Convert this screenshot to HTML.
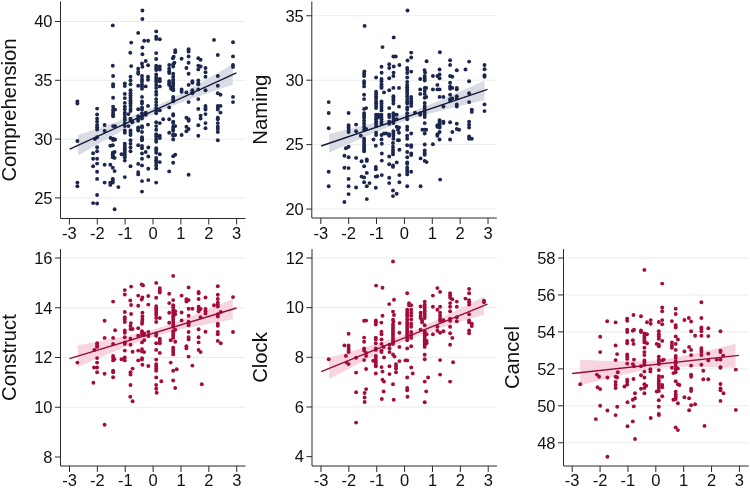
<!DOCTYPE html>
<html><head><meta charset="utf-8"><style>
html,body{margin:0;padding:0;background:#fff;}
body{width:750px;height:488px;overflow:hidden;}
svg{display:block;will-change:transform;}
.t{font-family:"Liberation Sans", sans-serif;font-size:16.5px;fill:#111;}
.ti{font-family:"Liberation Sans", sans-serif;font-size:20.3px;fill:#111;}
</style></head><body>
<svg width="750" height="488" viewBox="0 0 750 488">
<line x1="61.5" y1="21.5" x2="245.5" y2="21.5" stroke="#e9eced" stroke-width="1"/>
<line x1="61.5" y1="80.3" x2="245.5" y2="80.3" stroke="#e9eced" stroke-width="1"/>
<line x1="61.5" y1="139.1" x2="245.5" y2="139.1" stroke="#e9eced" stroke-width="1"/>
<line x1="61.5" y1="197.9" x2="245.5" y2="197.9" stroke="#e9eced" stroke-width="1"/>
<polygon points="77.9,135.19 81.77,133.86 85.65,132.52 89.52,131.18 93.39,129.84 97.26,128.49 101.14,127.14 105.01,125.78 108.88,124.42 112.75,123.04 116.62,121.66 120.5,120.26 124.37,118.85 128.24,117.42 132.12,115.96 135.99,114.48 139.86,112.97 143.73,111.42 147.61,109.81 151.48,108.16 155.35,106.44 159.22,104.66 163.1,102.81 166.97,100.9 170.84,98.93 174.71,96.92 178.59,94.86 182.46,92.77 186.33,90.65 190.2,88.51 194.07,86.35 197.95,84.18 201.82,81.99 205.69,79.79 209.57,77.59 213.44,75.38 217.31,73.16 221.18,70.94 225.06,68.71 228.93,66.48 232.8,64.25 232.8,84.65 228.93,85.97 225.06,87.29 221.18,88.61 217.31,89.94 213.44,91.27 209.57,92.61 205.69,93.95 201.82,95.31 197.95,96.67 194.07,98.05 190.2,99.44 186.33,100.85 182.46,102.28 178.59,103.73 174.71,105.23 170.84,106.76 166.97,108.34 163.1,109.98 159.22,111.68 155.35,113.45 151.48,115.28 147.61,117.18 143.73,119.13 139.86,121.12 135.99,123.16 132.12,125.22 128.24,127.32 124.37,129.44 120.5,131.58 116.62,133.73 112.75,135.89 108.88,138.07 105.01,140.25 101.14,142.44 97.26,144.64 93.39,146.84 89.52,149.05 85.65,151.26 81.77,153.48 77.9,155.69" fill="#d9dce4"/>
<circle cx="112.8" cy="25.4" r="1.95" fill="#1b274c"/>
<circle cx="112.8" cy="65.8" r="1.95" fill="#1b274c"/>
<circle cx="131.2" cy="42.6" r="1.95" fill="#1b274c"/>
<circle cx="131.2" cy="66.1" r="1.95" fill="#1b274c"/>
<circle cx="130.3" cy="52.8" r="1.95" fill="#1b274c"/>
<circle cx="142.4" cy="10.5" r="1.95" fill="#1b274c"/>
<circle cx="142.4" cy="19" r="1.95" fill="#1b274c"/>
<circle cx="142.4" cy="47.5" r="1.95" fill="#1b274c"/>
<circle cx="142.4" cy="54.3" r="1.95" fill="#1b274c"/>
<circle cx="142.4" cy="66.8" r="1.95" fill="#1b274c"/>
<circle cx="142" cy="63.5" r="1.95" fill="#1b274c"/>
<circle cx="138.2" cy="32.9" r="1.95" fill="#1b274c"/>
<circle cx="138.2" cy="68.8" r="1.95" fill="#1b274c"/>
<circle cx="138.2" cy="72" r="1.95" fill="#1b274c"/>
<circle cx="144.2" cy="40.8" r="1.95" fill="#1b274c"/>
<circle cx="148.1" cy="40.8" r="1.95" fill="#1b274c"/>
<circle cx="148.1" cy="65.3" r="1.95" fill="#1b274c"/>
<circle cx="145.7" cy="61" r="1.95" fill="#1b274c"/>
<circle cx="156.2" cy="31.4" r="1.95" fill="#1b274c"/>
<circle cx="156.2" cy="36.6" r="1.95" fill="#1b274c"/>
<circle cx="156.2" cy="38.9" r="1.95" fill="#1b274c"/>
<circle cx="156.2" cy="53.1" r="1.95" fill="#1b274c"/>
<circle cx="156.2" cy="59" r="1.95" fill="#1b274c"/>
<circle cx="156.2" cy="65.8" r="1.95" fill="#1b274c"/>
<circle cx="156.2" cy="68" r="1.95" fill="#1b274c"/>
<circle cx="159.8" cy="39.3" r="1.95" fill="#1b274c"/>
<circle cx="159.8" cy="66.5" r="1.95" fill="#1b274c"/>
<circle cx="159.8" cy="69.5" r="1.95" fill="#1b274c"/>
<circle cx="175.2" cy="50.1" r="1.95" fill="#1b274c"/>
<circle cx="175.2" cy="52.3" r="1.95" fill="#1b274c"/>
<circle cx="173.7" cy="56.8" r="1.95" fill="#1b274c"/>
<circle cx="172.9" cy="58.3" r="1.95" fill="#1b274c"/>
<circle cx="174.4" cy="62.8" r="1.95" fill="#1b274c"/>
<circle cx="173.2" cy="64.3" r="1.95" fill="#1b274c"/>
<circle cx="173.2" cy="66.5" r="1.95" fill="#1b274c"/>
<circle cx="169.2" cy="65" r="1.95" fill="#1b274c"/>
<circle cx="169.2" cy="68.8" r="1.95" fill="#1b274c"/>
<circle cx="181.6" cy="58.7" r="1.95" fill="#1b274c"/>
<circle cx="188.6" cy="49.3" r="1.95" fill="#1b274c"/>
<circle cx="188.6" cy="51.6" r="1.95" fill="#1b274c"/>
<circle cx="188.6" cy="56.5" r="1.95" fill="#1b274c"/>
<circle cx="188.6" cy="62.8" r="1.95" fill="#1b274c"/>
<circle cx="186.4" cy="68" r="1.95" fill="#1b274c"/>
<circle cx="198.3" cy="58.3" r="1.95" fill="#1b274c"/>
<circle cx="198.3" cy="65.8" r="1.95" fill="#1b274c"/>
<circle cx="198.3" cy="69.4" r="1.95" fill="#1b274c"/>
<circle cx="200.6" cy="59.8" r="1.95" fill="#1b274c"/>
<circle cx="200.6" cy="66.5" r="1.95" fill="#1b274c"/>
<circle cx="205.5" cy="68" r="1.95" fill="#1b274c"/>
<circle cx="214" cy="39.9" r="1.95" fill="#1b274c"/>
<circle cx="217.8" cy="55" r="1.95" fill="#1b274c"/>
<circle cx="233" cy="42.3" r="1.95" fill="#1b274c"/>
<circle cx="233" cy="56.4" r="1.95" fill="#1b274c"/>
<circle cx="233" cy="65" r="1.95" fill="#1b274c"/>
<circle cx="233" cy="67" r="1.95" fill="#1b274c"/>
<circle cx="77.4" cy="101.4" r="1.95" fill="#1b274c"/>
<circle cx="77.4" cy="103.6" r="1.95" fill="#1b274c"/>
<circle cx="77.4" cy="141" r="1.95" fill="#1b274c"/>
<circle cx="97.1" cy="108.6" r="1.95" fill="#1b274c"/>
<circle cx="97.1" cy="114.5" r="1.95" fill="#1b274c"/>
<circle cx="97.1" cy="118.6" r="1.95" fill="#1b274c"/>
<circle cx="97.1" cy="121.6" r="1.95" fill="#1b274c"/>
<circle cx="97.1" cy="125" r="1.95" fill="#1b274c"/>
<circle cx="97.1" cy="127.2" r="1.95" fill="#1b274c"/>
<circle cx="97.1" cy="129.5" r="1.95" fill="#1b274c"/>
<circle cx="97.1" cy="137.3" r="1.95" fill="#1b274c"/>
<circle cx="94.9" cy="139.1" r="1.95" fill="#1b274c"/>
<circle cx="104.6" cy="125" r="1.95" fill="#1b274c"/>
<circle cx="104.6" cy="131" r="1.95" fill="#1b274c"/>
<circle cx="110.6" cy="138" r="1.95" fill="#1b274c"/>
<circle cx="113.1" cy="76" r="1.95" fill="#1b274c"/>
<circle cx="113.1" cy="84.2" r="1.95" fill="#1b274c"/>
<circle cx="113.1" cy="86.4" r="1.95" fill="#1b274c"/>
<circle cx="113.1" cy="97.7" r="1.95" fill="#1b274c"/>
<circle cx="113.1" cy="106.6" r="1.95" fill="#1b274c"/>
<circle cx="113.1" cy="109.6" r="1.95" fill="#1b274c"/>
<circle cx="113.1" cy="111.9" r="1.95" fill="#1b274c"/>
<circle cx="113.1" cy="114.5" r="1.95" fill="#1b274c"/>
<circle cx="113.1" cy="116.3" r="1.95" fill="#1b274c"/>
<circle cx="113.1" cy="126.1" r="1.95" fill="#1b274c"/>
<circle cx="113.1" cy="138.8" r="1.95" fill="#1b274c"/>
<circle cx="113.1" cy="140" r="1.95" fill="#1b274c"/>
<circle cx="115.1" cy="109.6" r="1.95" fill="#1b274c"/>
<circle cx="115.1" cy="126.1" r="1.95" fill="#1b274c"/>
<circle cx="115.1" cy="139.5" r="1.95" fill="#1b274c"/>
<circle cx="124.8" cy="83.5" r="1.95" fill="#1b274c"/>
<circle cx="124.8" cy="86.1" r="1.95" fill="#1b274c"/>
<circle cx="124.8" cy="93.9" r="1.95" fill="#1b274c"/>
<circle cx="124.8" cy="98.1" r="1.95" fill="#1b274c"/>
<circle cx="124.8" cy="102.9" r="1.95" fill="#1b274c"/>
<circle cx="124.8" cy="106.6" r="1.95" fill="#1b274c"/>
<circle cx="124.8" cy="109.2" r="1.95" fill="#1b274c"/>
<circle cx="124.8" cy="112.6" r="1.95" fill="#1b274c"/>
<circle cx="124.8" cy="114.8" r="1.95" fill="#1b274c"/>
<circle cx="124.8" cy="117.8" r="1.95" fill="#1b274c"/>
<circle cx="124.8" cy="120.1" r="1.95" fill="#1b274c"/>
<circle cx="124.8" cy="123.1" r="1.95" fill="#1b274c"/>
<circle cx="124.8" cy="126.1" r="1.95" fill="#1b274c"/>
<circle cx="124.8" cy="130.5" r="1.95" fill="#1b274c"/>
<circle cx="124.8" cy="132.8" r="1.95" fill="#1b274c"/>
<circle cx="128.5" cy="114.1" r="1.95" fill="#1b274c"/>
<circle cx="128.5" cy="126.1" r="1.95" fill="#1b274c"/>
<circle cx="130.5" cy="76.7" r="1.95" fill="#1b274c"/>
<circle cx="130.5" cy="80.5" r="1.95" fill="#1b274c"/>
<circle cx="130.5" cy="84.2" r="1.95" fill="#1b274c"/>
<circle cx="130.5" cy="90.2" r="1.95" fill="#1b274c"/>
<circle cx="130.5" cy="93.2" r="1.95" fill="#1b274c"/>
<circle cx="130.5" cy="95.4" r="1.95" fill="#1b274c"/>
<circle cx="130.5" cy="97.7" r="1.95" fill="#1b274c"/>
<circle cx="130.5" cy="99.9" r="1.95" fill="#1b274c"/>
<circle cx="130.5" cy="101.4" r="1.95" fill="#1b274c"/>
<circle cx="130.5" cy="103.6" r="1.95" fill="#1b274c"/>
<circle cx="130.5" cy="105.9" r="1.95" fill="#1b274c"/>
<circle cx="130.5" cy="108.9" r="1.95" fill="#1b274c"/>
<circle cx="130.5" cy="111.1" r="1.95" fill="#1b274c"/>
<circle cx="130.5" cy="118.6" r="1.95" fill="#1b274c"/>
<circle cx="130.5" cy="120.1" r="1.95" fill="#1b274c"/>
<circle cx="130.5" cy="130.5" r="1.95" fill="#1b274c"/>
<circle cx="130.5" cy="132.8" r="1.95" fill="#1b274c"/>
<circle cx="130.5" cy="135" r="1.95" fill="#1b274c"/>
<circle cx="130.5" cy="140.3" r="1.95" fill="#1b274c"/>
<circle cx="132.3" cy="121.6" r="1.95" fill="#1b274c"/>
<circle cx="132.3" cy="122.3" r="1.95" fill="#1b274c"/>
<circle cx="138.2" cy="73.7" r="1.95" fill="#1b274c"/>
<circle cx="138.2" cy="85.7" r="1.95" fill="#1b274c"/>
<circle cx="138.2" cy="109.2" r="1.95" fill="#1b274c"/>
<circle cx="138.2" cy="116.3" r="1.95" fill="#1b274c"/>
<circle cx="138.2" cy="119.3" r="1.95" fill="#1b274c"/>
<circle cx="138.2" cy="120.8" r="1.95" fill="#1b274c"/>
<circle cx="138.2" cy="127.5" r="1.95" fill="#1b274c"/>
<circle cx="138.2" cy="129" r="1.95" fill="#1b274c"/>
<circle cx="138.2" cy="130.5" r="1.95" fill="#1b274c"/>
<circle cx="142" cy="76" r="1.95" fill="#1b274c"/>
<circle cx="142" cy="79" r="1.95" fill="#1b274c"/>
<circle cx="142" cy="81.2" r="1.95" fill="#1b274c"/>
<circle cx="142" cy="84.2" r="1.95" fill="#1b274c"/>
<circle cx="142" cy="86.4" r="1.95" fill="#1b274c"/>
<circle cx="142" cy="88.7" r="1.95" fill="#1b274c"/>
<circle cx="142" cy="96.9" r="1.95" fill="#1b274c"/>
<circle cx="142" cy="101.4" r="1.95" fill="#1b274c"/>
<circle cx="142" cy="103.6" r="1.95" fill="#1b274c"/>
<circle cx="142" cy="107.4" r="1.95" fill="#1b274c"/>
<circle cx="142" cy="109.6" r="1.95" fill="#1b274c"/>
<circle cx="142" cy="113.3" r="1.95" fill="#1b274c"/>
<circle cx="142" cy="116.3" r="1.95" fill="#1b274c"/>
<circle cx="142" cy="118.6" r="1.95" fill="#1b274c"/>
<circle cx="142" cy="126.1" r="1.95" fill="#1b274c"/>
<circle cx="142" cy="127.5" r="1.95" fill="#1b274c"/>
<circle cx="142" cy="132" r="1.95" fill="#1b274c"/>
<circle cx="142" cy="137.3" r="1.95" fill="#1b274c"/>
<circle cx="142" cy="138.8" r="1.95" fill="#1b274c"/>
<circle cx="142" cy="140.3" r="1.95" fill="#1b274c"/>
<circle cx="145.7" cy="86.4" r="1.95" fill="#1b274c"/>
<circle cx="145.7" cy="112.6" r="1.95" fill="#1b274c"/>
<circle cx="145.7" cy="114.8" r="1.95" fill="#1b274c"/>
<circle cx="148" cy="76.7" r="1.95" fill="#1b274c"/>
<circle cx="148" cy="79.7" r="1.95" fill="#1b274c"/>
<circle cx="148" cy="105.9" r="1.95" fill="#1b274c"/>
<circle cx="148" cy="124.6" r="1.95" fill="#1b274c"/>
<circle cx="156.2" cy="70" r="1.95" fill="#1b274c"/>
<circle cx="156.2" cy="74.5" r="1.95" fill="#1b274c"/>
<circle cx="156.2" cy="77.5" r="1.95" fill="#1b274c"/>
<circle cx="156.2" cy="79.7" r="1.95" fill="#1b274c"/>
<circle cx="156.2" cy="82" r="1.95" fill="#1b274c"/>
<circle cx="156.2" cy="84.9" r="1.95" fill="#1b274c"/>
<circle cx="156.2" cy="87.9" r="1.95" fill="#1b274c"/>
<circle cx="156.2" cy="91.7" r="1.95" fill="#1b274c"/>
<circle cx="156.2" cy="94.7" r="1.95" fill="#1b274c"/>
<circle cx="156.2" cy="99.1" r="1.95" fill="#1b274c"/>
<circle cx="156.2" cy="102.1" r="1.95" fill="#1b274c"/>
<circle cx="156.2" cy="105.1" r="1.95" fill="#1b274c"/>
<circle cx="156.2" cy="108.1" r="1.95" fill="#1b274c"/>
<circle cx="156.2" cy="111.1" r="1.95" fill="#1b274c"/>
<circle cx="156.2" cy="113.3" r="1.95" fill="#1b274c"/>
<circle cx="156.2" cy="122.3" r="1.95" fill="#1b274c"/>
<circle cx="156.2" cy="126.1" r="1.95" fill="#1b274c"/>
<circle cx="156.2" cy="129.8" r="1.95" fill="#1b274c"/>
<circle cx="156.2" cy="134.3" r="1.95" fill="#1b274c"/>
<circle cx="156.2" cy="136.5" r="1.95" fill="#1b274c"/>
<circle cx="156.2" cy="139.5" r="1.95" fill="#1b274c"/>
<circle cx="156.2" cy="141.7" r="1.95" fill="#1b274c"/>
<circle cx="159.8" cy="79" r="1.95" fill="#1b274c"/>
<circle cx="159.8" cy="81.2" r="1.95" fill="#1b274c"/>
<circle cx="159.8" cy="86.4" r="1.95" fill="#1b274c"/>
<circle cx="159.8" cy="110.4" r="1.95" fill="#1b274c"/>
<circle cx="159.8" cy="123.1" r="1.95" fill="#1b274c"/>
<circle cx="159.8" cy="135.8" r="1.95" fill="#1b274c"/>
<circle cx="159.8" cy="138" r="1.95" fill="#1b274c"/>
<circle cx="163.2" cy="119.3" r="1.95" fill="#1b274c"/>
<circle cx="169.2" cy="71.5" r="1.95" fill="#1b274c"/>
<circle cx="169.2" cy="73" r="1.95" fill="#1b274c"/>
<circle cx="169.2" cy="81.2" r="1.95" fill="#1b274c"/>
<circle cx="169.2" cy="83.5" r="1.95" fill="#1b274c"/>
<circle cx="169.2" cy="84.9" r="1.95" fill="#1b274c"/>
<circle cx="169.2" cy="107.4" r="1.95" fill="#1b274c"/>
<circle cx="169.2" cy="119.3" r="1.95" fill="#1b274c"/>
<circle cx="169.2" cy="132.8" r="1.95" fill="#1b274c"/>
<circle cx="171.1" cy="87.2" r="1.95" fill="#1b274c"/>
<circle cx="171.1" cy="88.7" r="1.95" fill="#1b274c"/>
<circle cx="173.2" cy="73.7" r="1.95" fill="#1b274c"/>
<circle cx="173.2" cy="76.7" r="1.95" fill="#1b274c"/>
<circle cx="173.2" cy="79.7" r="1.95" fill="#1b274c"/>
<circle cx="173.2" cy="82" r="1.95" fill="#1b274c"/>
<circle cx="173.2" cy="83.5" r="1.95" fill="#1b274c"/>
<circle cx="173.2" cy="85.7" r="1.95" fill="#1b274c"/>
<circle cx="173.2" cy="88.7" r="1.95" fill="#1b274c"/>
<circle cx="173.2" cy="90.2" r="1.95" fill="#1b274c"/>
<circle cx="173.2" cy="96.9" r="1.95" fill="#1b274c"/>
<circle cx="173.2" cy="99.1" r="1.95" fill="#1b274c"/>
<circle cx="173.2" cy="101.4" r="1.95" fill="#1b274c"/>
<circle cx="173.2" cy="114.1" r="1.95" fill="#1b274c"/>
<circle cx="173.2" cy="115.6" r="1.95" fill="#1b274c"/>
<circle cx="173.2" cy="121.6" r="1.95" fill="#1b274c"/>
<circle cx="173.2" cy="123.1" r="1.95" fill="#1b274c"/>
<circle cx="173.2" cy="126.8" r="1.95" fill="#1b274c"/>
<circle cx="173.2" cy="129" r="1.95" fill="#1b274c"/>
<circle cx="173.2" cy="130.5" r="1.95" fill="#1b274c"/>
<circle cx="173.2" cy="134.3" r="1.95" fill="#1b274c"/>
<circle cx="173.2" cy="135.8" r="1.95" fill="#1b274c"/>
<circle cx="173.2" cy="139.5" r="1.95" fill="#1b274c"/>
<circle cx="175.2" cy="126.1" r="1.95" fill="#1b274c"/>
<circle cx="175.2" cy="135" r="1.95" fill="#1b274c"/>
<circle cx="181.6" cy="89.4" r="1.95" fill="#1b274c"/>
<circle cx="181.6" cy="91.7" r="1.95" fill="#1b274c"/>
<circle cx="181.6" cy="135" r="1.95" fill="#1b274c"/>
<circle cx="186.4" cy="92.4" r="1.95" fill="#1b274c"/>
<circle cx="186.4" cy="117.8" r="1.95" fill="#1b274c"/>
<circle cx="186.4" cy="126.8" r="1.95" fill="#1b274c"/>
<circle cx="186.4" cy="131.3" r="1.95" fill="#1b274c"/>
<circle cx="188.6" cy="73.7" r="1.95" fill="#1b274c"/>
<circle cx="188.6" cy="84.9" r="1.95" fill="#1b274c"/>
<circle cx="188.6" cy="102.1" r="1.95" fill="#1b274c"/>
<circle cx="188.6" cy="119.3" r="1.95" fill="#1b274c"/>
<circle cx="188.6" cy="120.8" r="1.95" fill="#1b274c"/>
<circle cx="188.6" cy="129" r="1.95" fill="#1b274c"/>
<circle cx="192.4" cy="81.2" r="1.95" fill="#1b274c"/>
<circle cx="192.4" cy="82.7" r="1.95" fill="#1b274c"/>
<circle cx="192.4" cy="90.2" r="1.95" fill="#1b274c"/>
<circle cx="192.4" cy="92.4" r="1.95" fill="#1b274c"/>
<circle cx="192.4" cy="93.2" r="1.95" fill="#1b274c"/>
<circle cx="198.3" cy="80.5" r="1.95" fill="#1b274c"/>
<circle cx="198.3" cy="83.5" r="1.95" fill="#1b274c"/>
<circle cx="198.3" cy="84.2" r="1.95" fill="#1b274c"/>
<circle cx="198.3" cy="89.4" r="1.95" fill="#1b274c"/>
<circle cx="198.3" cy="99.1" r="1.95" fill="#1b274c"/>
<circle cx="198.3" cy="108.9" r="1.95" fill="#1b274c"/>
<circle cx="198.3" cy="125.3" r="1.95" fill="#1b274c"/>
<circle cx="198.3" cy="135.8" r="1.95" fill="#1b274c"/>
<circle cx="200.6" cy="115.6" r="1.95" fill="#1b274c"/>
<circle cx="200.6" cy="118.6" r="1.95" fill="#1b274c"/>
<circle cx="205.5" cy="72.2" r="1.95" fill="#1b274c"/>
<circle cx="205.5" cy="76.7" r="1.95" fill="#1b274c"/>
<circle cx="205.5" cy="90.2" r="1.95" fill="#1b274c"/>
<circle cx="205.5" cy="105.9" r="1.95" fill="#1b274c"/>
<circle cx="205.5" cy="108.1" r="1.95" fill="#1b274c"/>
<circle cx="205.5" cy="109.6" r="1.95" fill="#1b274c"/>
<circle cx="205.5" cy="114.1" r="1.95" fill="#1b274c"/>
<circle cx="205.5" cy="123.1" r="1.95" fill="#1b274c"/>
<circle cx="205.5" cy="128.3" r="1.95" fill="#1b274c"/>
<circle cx="217.8" cy="76" r="1.95" fill="#1b274c"/>
<circle cx="217.8" cy="85.7" r="1.95" fill="#1b274c"/>
<circle cx="217.8" cy="93.2" r="1.95" fill="#1b274c"/>
<circle cx="217.8" cy="105.9" r="1.95" fill="#1b274c"/>
<circle cx="217.8" cy="108.1" r="1.95" fill="#1b274c"/>
<circle cx="217.8" cy="109.6" r="1.95" fill="#1b274c"/>
<circle cx="217.8" cy="117.8" r="1.95" fill="#1b274c"/>
<circle cx="217.8" cy="119.3" r="1.95" fill="#1b274c"/>
<circle cx="217.8" cy="123.1" r="1.95" fill="#1b274c"/>
<circle cx="217.8" cy="126.8" r="1.95" fill="#1b274c"/>
<circle cx="217.8" cy="129" r="1.95" fill="#1b274c"/>
<circle cx="217.8" cy="132" r="1.95" fill="#1b274c"/>
<circle cx="217.8" cy="140.3" r="1.95" fill="#1b274c"/>
<circle cx="220.5" cy="94.7" r="1.95" fill="#1b274c"/>
<circle cx="220.5" cy="105.9" r="1.95" fill="#1b274c"/>
<circle cx="220.5" cy="112.6" r="1.95" fill="#1b274c"/>
<circle cx="233" cy="96.9" r="1.95" fill="#1b274c"/>
<circle cx="233" cy="102.1" r="1.95" fill="#1b274c"/>
<circle cx="77.4" cy="182.6" r="1.95" fill="#1b274c"/>
<circle cx="77.4" cy="186.3" r="1.95" fill="#1b274c"/>
<circle cx="93.1" cy="153.2" r="1.95" fill="#1b274c"/>
<circle cx="93.1" cy="158.7" r="1.95" fill="#1b274c"/>
<circle cx="93.1" cy="166.2" r="1.95" fill="#1b274c"/>
<circle cx="93.1" cy="203.1" r="1.95" fill="#1b274c"/>
<circle cx="97.1" cy="147.2" r="1.95" fill="#1b274c"/>
<circle cx="97.1" cy="151.2" r="1.95" fill="#1b274c"/>
<circle cx="97.1" cy="158.7" r="1.95" fill="#1b274c"/>
<circle cx="97.1" cy="163.6" r="1.95" fill="#1b274c"/>
<circle cx="97.1" cy="171.7" r="1.95" fill="#1b274c"/>
<circle cx="97.1" cy="178.9" r="1.95" fill="#1b274c"/>
<circle cx="97.1" cy="195" r="1.95" fill="#1b274c"/>
<circle cx="97.1" cy="203.5" r="1.95" fill="#1b274c"/>
<circle cx="104.6" cy="164.7" r="1.95" fill="#1b274c"/>
<circle cx="104.6" cy="182.6" r="1.95" fill="#1b274c"/>
<circle cx="110.3" cy="145.7" r="1.95" fill="#1b274c"/>
<circle cx="110.3" cy="164.7" r="1.95" fill="#1b274c"/>
<circle cx="110.3" cy="182.6" r="1.95" fill="#1b274c"/>
<circle cx="110.3" cy="184.9" r="1.95" fill="#1b274c"/>
<circle cx="112.8" cy="145.2" r="1.95" fill="#1b274c"/>
<circle cx="112.8" cy="152.7" r="1.95" fill="#1b274c"/>
<circle cx="112.8" cy="154.2" r="1.95" fill="#1b274c"/>
<circle cx="112.8" cy="155.7" r="1.95" fill="#1b274c"/>
<circle cx="112.8" cy="157.2" r="1.95" fill="#1b274c"/>
<circle cx="112.8" cy="167.7" r="1.95" fill="#1b274c"/>
<circle cx="112.8" cy="178.9" r="1.95" fill="#1b274c"/>
<circle cx="112.8" cy="180.4" r="1.95" fill="#1b274c"/>
<circle cx="112.8" cy="182.6" r="1.95" fill="#1b274c"/>
<circle cx="114.6" cy="152" r="1.95" fill="#1b274c"/>
<circle cx="114.6" cy="157.9" r="1.95" fill="#1b274c"/>
<circle cx="114.6" cy="171.1" r="1.95" fill="#1b274c"/>
<circle cx="114.6" cy="209.2" r="1.95" fill="#1b274c"/>
<circle cx="118.4" cy="187.1" r="1.95" fill="#1b274c"/>
<circle cx="121.5" cy="154.2" r="1.95" fill="#1b274c"/>
<circle cx="124.8" cy="143.7" r="1.95" fill="#1b274c"/>
<circle cx="124.8" cy="146" r="1.95" fill="#1b274c"/>
<circle cx="124.8" cy="148.2" r="1.95" fill="#1b274c"/>
<circle cx="124.8" cy="150.5" r="1.95" fill="#1b274c"/>
<circle cx="124.8" cy="152.7" r="1.95" fill="#1b274c"/>
<circle cx="124.8" cy="155" r="1.95" fill="#1b274c"/>
<circle cx="124.8" cy="157.2" r="1.95" fill="#1b274c"/>
<circle cx="124.8" cy="160.6" r="1.95" fill="#1b274c"/>
<circle cx="124.8" cy="177.1" r="1.95" fill="#1b274c"/>
<circle cx="130.5" cy="143.7" r="1.95" fill="#1b274c"/>
<circle cx="130.5" cy="147.5" r="1.95" fill="#1b274c"/>
<circle cx="130.5" cy="151.2" r="1.95" fill="#1b274c"/>
<circle cx="130.5" cy="166.2" r="1.95" fill="#1b274c"/>
<circle cx="138.2" cy="145.2" r="1.95" fill="#1b274c"/>
<circle cx="138.2" cy="163.9" r="1.95" fill="#1b274c"/>
<circle cx="138.2" cy="172.1" r="1.95" fill="#1b274c"/>
<circle cx="138.2" cy="174.4" r="1.95" fill="#1b274c"/>
<circle cx="142" cy="146" r="1.95" fill="#1b274c"/>
<circle cx="142" cy="148.2" r="1.95" fill="#1b274c"/>
<circle cx="142" cy="153.5" r="1.95" fill="#1b274c"/>
<circle cx="142" cy="158.7" r="1.95" fill="#1b274c"/>
<circle cx="142" cy="165.4" r="1.95" fill="#1b274c"/>
<circle cx="142" cy="181.1" r="1.95" fill="#1b274c"/>
<circle cx="142" cy="191.6" r="1.95" fill="#1b274c"/>
<circle cx="145.7" cy="152" r="1.95" fill="#1b274c"/>
<circle cx="148.3" cy="147.5" r="1.95" fill="#1b274c"/>
<circle cx="148.3" cy="156.5" r="1.95" fill="#1b274c"/>
<circle cx="148.3" cy="168.7" r="1.95" fill="#1b274c"/>
<circle cx="148.3" cy="180.1" r="1.95" fill="#1b274c"/>
<circle cx="156.2" cy="148.2" r="1.95" fill="#1b274c"/>
<circle cx="156.2" cy="150.5" r="1.95" fill="#1b274c"/>
<circle cx="156.2" cy="152.7" r="1.95" fill="#1b274c"/>
<circle cx="156.2" cy="157.9" r="1.95" fill="#1b274c"/>
<circle cx="156.2" cy="160.2" r="1.95" fill="#1b274c"/>
<circle cx="156.2" cy="162.4" r="1.95" fill="#1b274c"/>
<circle cx="156.2" cy="165.4" r="1.95" fill="#1b274c"/>
<circle cx="156.2" cy="168.4" r="1.95" fill="#1b274c"/>
<circle cx="156.2" cy="182.6" r="1.95" fill="#1b274c"/>
<circle cx="159.8" cy="154.2" r="1.95" fill="#1b274c"/>
<circle cx="159.8" cy="162.1" r="1.95" fill="#1b274c"/>
<circle cx="169.2" cy="171.4" r="1.95" fill="#1b274c"/>
<circle cx="173.2" cy="156.2" r="1.95" fill="#1b274c"/>
<circle cx="173.2" cy="162.7" r="1.95" fill="#1b274c"/>
<circle cx="175.2" cy="154.7" r="1.95" fill="#1b274c"/>
<circle cx="188.6" cy="174.8" r="1.95" fill="#1b274c"/>
<line x1="69.7" y1="149.2" x2="236.4" y2="72.8" stroke="#141c38" stroke-width="1.4"/>
<path d="M60.5,1.5V218.5H245.5" fill="none" stroke="#2a2a2a" stroke-width="1"/>
<line x1="55" y1="21.5" x2="60.5" y2="21.5" stroke="#2a2a2a" stroke-width="1"/>
<text x="52.5" y="27.3" text-anchor="end" class="t">40</text>
<line x1="55" y1="80.3" x2="60.5" y2="80.3" stroke="#2a2a2a" stroke-width="1"/>
<text x="52.5" y="86.1" text-anchor="end" class="t">35</text>
<line x1="55" y1="139.1" x2="60.5" y2="139.1" stroke="#2a2a2a" stroke-width="1"/>
<text x="52.5" y="144.9" text-anchor="end" class="t">30</text>
<line x1="55" y1="197.9" x2="60.5" y2="197.9" stroke="#2a2a2a" stroke-width="1"/>
<text x="52.5" y="203.7" text-anchor="end" class="t">25</text>
<line x1="69.4" y1="218.5" x2="69.4" y2="224.5" stroke="#2a2a2a" stroke-width="1"/>
<text x="69.4" y="239.1" text-anchor="middle" class="t">-3</text>
<line x1="97.27" y1="218.5" x2="97.27" y2="224.5" stroke="#2a2a2a" stroke-width="1"/>
<text x="97.27" y="239.1" text-anchor="middle" class="t">-2</text>
<line x1="125.14" y1="218.5" x2="125.14" y2="224.5" stroke="#2a2a2a" stroke-width="1"/>
<text x="125.14" y="239.1" text-anchor="middle" class="t">-1</text>
<line x1="153.01" y1="218.5" x2="153.01" y2="224.5" stroke="#2a2a2a" stroke-width="1"/>
<text x="153.01" y="239.1" text-anchor="middle" class="t">0</text>
<line x1="180.88" y1="218.5" x2="180.88" y2="224.5" stroke="#2a2a2a" stroke-width="1"/>
<text x="180.88" y="239.1" text-anchor="middle" class="t">1</text>
<line x1="208.75" y1="218.5" x2="208.75" y2="224.5" stroke="#2a2a2a" stroke-width="1"/>
<text x="208.75" y="239.1" text-anchor="middle" class="t">2</text>
<line x1="236.62" y1="218.5" x2="236.62" y2="224.5" stroke="#2a2a2a" stroke-width="1"/>
<text x="236.62" y="239.1" text-anchor="middle" class="t">3</text>
<text transform="translate(15.9,110) rotate(-90)" text-anchor="middle" class="ti">Comprehension</text>
<line x1="312.8" y1="15.75" x2="496.8" y2="15.75" stroke="#e9eced" stroke-width="1"/>
<line x1="312.8" y1="80.19" x2="496.8" y2="80.19" stroke="#e9eced" stroke-width="1"/>
<line x1="312.8" y1="144.63" x2="496.8" y2="144.63" stroke="#e9eced" stroke-width="1"/>
<line x1="312.8" y1="209.07" x2="496.8" y2="209.07" stroke="#e9eced" stroke-width="1"/>
<polygon points="329.1,133.78 332.99,132.88 336.87,131.97 340.75,131.06 344.64,130.15 348.53,129.23 352.41,128.3 356.3,127.37 360.18,126.43 364.06,125.47 367.95,124.51 371.84,123.53 375.72,122.54 379.61,121.52 383.49,120.48 387.38,119.4 391.26,118.29 395.14,117.13 399.03,115.92 402.92,114.66 406.8,113.34 410.69,111.97 414.57,110.54 418.46,109.07 422.34,107.55 426.23,105.99 430.11,104.4 434,102.79 437.88,101.15 441.76,99.5 445.65,97.83 449.54,96.15 453.42,94.46 457.31,92.77 461.19,91.06 465.07,89.35 468.96,87.63 472.85,85.91 476.73,84.18 480.62,82.45 484.5,80.72 484.5,100.12 480.62,101.03 476.73,101.94 472.85,102.86 468.96,103.78 465.07,104.71 461.19,105.64 457.31,106.58 453.42,107.52 449.54,108.47 445.65,109.44 441.76,110.41 437.88,111.4 434,112.41 430.11,113.44 426.23,114.49 422.34,115.58 418.46,116.71 414.57,117.87 410.69,119.09 406.8,120.36 402.92,121.68 399.03,123.06 395.14,124.5 391.26,125.98 387.38,127.51 383.49,129.08 379.61,130.68 375.72,132.31 371.84,133.95 367.95,135.62 364.06,137.3 360.18,138.99 356.3,140.69 352.41,142.4 348.53,144.12 344.64,145.84 340.75,147.57 336.87,149.3 332.99,151.04 329.1,152.78" fill="#d9dce4"/>
<circle cx="364.6" cy="25.9" r="1.95" fill="#1b274c"/>
<circle cx="364.4" cy="71.5" r="1.95" fill="#1b274c"/>
<circle cx="393.7" cy="37.4" r="1.95" fill="#1b274c"/>
<circle cx="393.7" cy="66.5" r="1.95" fill="#1b274c"/>
<circle cx="393.6" cy="72.7" r="1.95" fill="#1b274c"/>
<circle cx="382.5" cy="47.1" r="1.95" fill="#1b274c"/>
<circle cx="393.4" cy="56.5" r="1.95" fill="#1b274c"/>
<circle cx="395.7" cy="56.5" r="1.95" fill="#1b274c"/>
<circle cx="381.5" cy="66.8" r="1.95" fill="#1b274c"/>
<circle cx="381.6" cy="72.7" r="1.95" fill="#1b274c"/>
<circle cx="389.2" cy="64.3" r="1.95" fill="#1b274c"/>
<circle cx="389.2" cy="68" r="1.95" fill="#1b274c"/>
<circle cx="399.4" cy="65" r="1.95" fill="#1b274c"/>
<circle cx="407.5" cy="10.5" r="1.95" fill="#1b274c"/>
<circle cx="407.5" cy="60.5" r="1.95" fill="#1b274c"/>
<circle cx="407.3" cy="70.1" r="1.95" fill="#1b274c"/>
<circle cx="411.2" cy="52.6" r="1.95" fill="#1b274c"/>
<circle cx="411.2" cy="57.5" r="1.95" fill="#1b274c"/>
<circle cx="411.2" cy="71.6" r="1.95" fill="#1b274c"/>
<circle cx="407.2" cy="68" r="1.95" fill="#1b274c"/>
<circle cx="426.6" cy="61.3" r="1.95" fill="#1b274c"/>
<circle cx="424.5" cy="70.1" r="1.95" fill="#1b274c"/>
<circle cx="425.1" cy="72.4" r="1.95" fill="#1b274c"/>
<circle cx="439.9" cy="52.3" r="1.95" fill="#1b274c"/>
<circle cx="439.6" cy="69.5" r="1.95" fill="#1b274c"/>
<circle cx="450.1" cy="60.2" r="1.95" fill="#1b274c"/>
<circle cx="450.1" cy="65" r="1.95" fill="#1b274c"/>
<circle cx="456.8" cy="70.3" r="1.95" fill="#1b274c"/>
<circle cx="465.5" cy="69.5" r="1.95" fill="#1b274c"/>
<circle cx="469.1" cy="61.6" r="1.95" fill="#1b274c"/>
<circle cx="484.5" cy="65" r="1.95" fill="#1b274c"/>
<circle cx="484.5" cy="69.2" r="1.95" fill="#1b274c"/>
<circle cx="328.7" cy="102.1" r="1.95" fill="#1b274c"/>
<circle cx="328.7" cy="113" r="1.95" fill="#1b274c"/>
<circle cx="328.7" cy="128.3" r="1.95" fill="#1b274c"/>
<circle cx="348.6" cy="113" r="1.95" fill="#1b274c"/>
<circle cx="348.6" cy="125.3" r="1.95" fill="#1b274c"/>
<circle cx="348.6" cy="127.5" r="1.95" fill="#1b274c"/>
<circle cx="348.6" cy="129.8" r="1.95" fill="#1b274c"/>
<circle cx="348.6" cy="132" r="1.95" fill="#1b274c"/>
<circle cx="356.1" cy="124.6" r="1.95" fill="#1b274c"/>
<circle cx="356.1" cy="131.3" r="1.95" fill="#1b274c"/>
<circle cx="360.8" cy="135.8" r="1.95" fill="#1b274c"/>
<circle cx="364.1" cy="73.7" r="1.95" fill="#1b274c"/>
<circle cx="364.1" cy="76" r="1.95" fill="#1b274c"/>
<circle cx="364.1" cy="81.2" r="1.95" fill="#1b274c"/>
<circle cx="364.1" cy="83.5" r="1.95" fill="#1b274c"/>
<circle cx="364.1" cy="86.4" r="1.95" fill="#1b274c"/>
<circle cx="364.1" cy="94.7" r="1.95" fill="#1b274c"/>
<circle cx="364.1" cy="99.1" r="1.95" fill="#1b274c"/>
<circle cx="364.1" cy="108.9" r="1.95" fill="#1b274c"/>
<circle cx="364.1" cy="113.3" r="1.95" fill="#1b274c"/>
<circle cx="364.1" cy="115.6" r="1.95" fill="#1b274c"/>
<circle cx="364.1" cy="117.8" r="1.95" fill="#1b274c"/>
<circle cx="364.1" cy="120.8" r="1.95" fill="#1b274c"/>
<circle cx="364.1" cy="123.8" r="1.95" fill="#1b274c"/>
<circle cx="364.1" cy="126.8" r="1.95" fill="#1b274c"/>
<circle cx="364.1" cy="129.8" r="1.95" fill="#1b274c"/>
<circle cx="364.1" cy="138.8" r="1.95" fill="#1b274c"/>
<circle cx="364.1" cy="141" r="1.95" fill="#1b274c"/>
<circle cx="366.1" cy="108.1" r="1.95" fill="#1b274c"/>
<circle cx="366.1" cy="129" r="1.95" fill="#1b274c"/>
<circle cx="373.5" cy="139.5" r="1.95" fill="#1b274c"/>
<circle cx="376.1" cy="77.5" r="1.95" fill="#1b274c"/>
<circle cx="376.1" cy="91.7" r="1.95" fill="#1b274c"/>
<circle cx="376.1" cy="93.9" r="1.95" fill="#1b274c"/>
<circle cx="376.1" cy="96.2" r="1.95" fill="#1b274c"/>
<circle cx="376.1" cy="98.4" r="1.95" fill="#1b274c"/>
<circle cx="376.1" cy="101.4" r="1.95" fill="#1b274c"/>
<circle cx="376.1" cy="103.6" r="1.95" fill="#1b274c"/>
<circle cx="376.1" cy="105.9" r="1.95" fill="#1b274c"/>
<circle cx="376.1" cy="108.1" r="1.95" fill="#1b274c"/>
<circle cx="376.1" cy="114.8" r="1.95" fill="#1b274c"/>
<circle cx="376.1" cy="117.1" r="1.95" fill="#1b274c"/>
<circle cx="376.1" cy="119.3" r="1.95" fill="#1b274c"/>
<circle cx="376.1" cy="121.6" r="1.95" fill="#1b274c"/>
<circle cx="376.1" cy="123.8" r="1.95" fill="#1b274c"/>
<circle cx="376.1" cy="126.1" r="1.95" fill="#1b274c"/>
<circle cx="376.1" cy="132.8" r="1.95" fill="#1b274c"/>
<circle cx="376.1" cy="135" r="1.95" fill="#1b274c"/>
<circle cx="378.5" cy="114.8" r="1.95" fill="#1b274c"/>
<circle cx="378.5" cy="117.1" r="1.95" fill="#1b274c"/>
<circle cx="381.5" cy="79" r="1.95" fill="#1b274c"/>
<circle cx="381.5" cy="81.2" r="1.95" fill="#1b274c"/>
<circle cx="381.5" cy="84.2" r="1.95" fill="#1b274c"/>
<circle cx="381.5" cy="86.4" r="1.95" fill="#1b274c"/>
<circle cx="381.5" cy="87.9" r="1.95" fill="#1b274c"/>
<circle cx="381.5" cy="101.4" r="1.95" fill="#1b274c"/>
<circle cx="381.5" cy="103.6" r="1.95" fill="#1b274c"/>
<circle cx="381.5" cy="105.9" r="1.95" fill="#1b274c"/>
<circle cx="381.5" cy="108.1" r="1.95" fill="#1b274c"/>
<circle cx="381.5" cy="110.4" r="1.95" fill="#1b274c"/>
<circle cx="381.5" cy="114.8" r="1.95" fill="#1b274c"/>
<circle cx="381.5" cy="117.1" r="1.95" fill="#1b274c"/>
<circle cx="381.5" cy="119.3" r="1.95" fill="#1b274c"/>
<circle cx="381.5" cy="121.6" r="1.95" fill="#1b274c"/>
<circle cx="381.5" cy="123.8" r="1.95" fill="#1b274c"/>
<circle cx="381.5" cy="135" r="1.95" fill="#1b274c"/>
<circle cx="381.5" cy="139.5" r="1.95" fill="#1b274c"/>
<circle cx="384" cy="92.4" r="1.95" fill="#1b274c"/>
<circle cx="384" cy="133.5" r="1.95" fill="#1b274c"/>
<circle cx="386.3" cy="133.5" r="1.95" fill="#1b274c"/>
<circle cx="389.2" cy="78.2" r="1.95" fill="#1b274c"/>
<circle cx="389.2" cy="90.2" r="1.95" fill="#1b274c"/>
<circle cx="389.2" cy="108.1" r="1.95" fill="#1b274c"/>
<circle cx="389.2" cy="114.8" r="1.95" fill="#1b274c"/>
<circle cx="389.2" cy="117.1" r="1.95" fill="#1b274c"/>
<circle cx="389.2" cy="121.6" r="1.95" fill="#1b274c"/>
<circle cx="389.2" cy="123.8" r="1.95" fill="#1b274c"/>
<circle cx="389.2" cy="134.3" r="1.95" fill="#1b274c"/>
<circle cx="389.2" cy="135.8" r="1.95" fill="#1b274c"/>
<circle cx="393.4" cy="76" r="1.95" fill="#1b274c"/>
<circle cx="393.4" cy="87.9" r="1.95" fill="#1b274c"/>
<circle cx="393.4" cy="96.2" r="1.95" fill="#1b274c"/>
<circle cx="393.4" cy="98.4" r="1.95" fill="#1b274c"/>
<circle cx="393.4" cy="100.6" r="1.95" fill="#1b274c"/>
<circle cx="393.4" cy="103.6" r="1.95" fill="#1b274c"/>
<circle cx="393.4" cy="113.3" r="1.95" fill="#1b274c"/>
<circle cx="393.4" cy="115.6" r="1.95" fill="#1b274c"/>
<circle cx="393.4" cy="117.8" r="1.95" fill="#1b274c"/>
<circle cx="393.4" cy="120.8" r="1.95" fill="#1b274c"/>
<circle cx="393.4" cy="123.1" r="1.95" fill="#1b274c"/>
<circle cx="393.4" cy="131.3" r="1.95" fill="#1b274c"/>
<circle cx="393.4" cy="133.5" r="1.95" fill="#1b274c"/>
<circle cx="393.4" cy="135.8" r="1.95" fill="#1b274c"/>
<circle cx="393.4" cy="138.8" r="1.95" fill="#1b274c"/>
<circle cx="396.7" cy="114.8" r="1.95" fill="#1b274c"/>
<circle cx="396.7" cy="119.3" r="1.95" fill="#1b274c"/>
<circle cx="396.7" cy="126.8" r="1.95" fill="#1b274c"/>
<circle cx="399" cy="87.9" r="1.95" fill="#1b274c"/>
<circle cx="399" cy="106.6" r="1.95" fill="#1b274c"/>
<circle cx="399" cy="127.5" r="1.95" fill="#1b274c"/>
<circle cx="399" cy="132.8" r="1.95" fill="#1b274c"/>
<circle cx="399" cy="140.3" r="1.95" fill="#1b274c"/>
<circle cx="397.9" cy="129.8" r="1.95" fill="#1b274c"/>
<circle cx="397.9" cy="140.3" r="1.95" fill="#1b274c"/>
<circle cx="407.2" cy="73" r="1.95" fill="#1b274c"/>
<circle cx="407.2" cy="77.5" r="1.95" fill="#1b274c"/>
<circle cx="407.2" cy="82" r="1.95" fill="#1b274c"/>
<circle cx="407.2" cy="84.9" r="1.95" fill="#1b274c"/>
<circle cx="407.2" cy="87.2" r="1.95" fill="#1b274c"/>
<circle cx="407.2" cy="89.4" r="1.95" fill="#1b274c"/>
<circle cx="407.2" cy="91.7" r="1.95" fill="#1b274c"/>
<circle cx="407.2" cy="93.9" r="1.95" fill="#1b274c"/>
<circle cx="407.2" cy="96.2" r="1.95" fill="#1b274c"/>
<circle cx="407.2" cy="99.1" r="1.95" fill="#1b274c"/>
<circle cx="407.2" cy="101.4" r="1.95" fill="#1b274c"/>
<circle cx="407.2" cy="103.6" r="1.95" fill="#1b274c"/>
<circle cx="407.2" cy="107.4" r="1.95" fill="#1b274c"/>
<circle cx="407.2" cy="109.6" r="1.95" fill="#1b274c"/>
<circle cx="407.2" cy="113.3" r="1.95" fill="#1b274c"/>
<circle cx="407.2" cy="116.3" r="1.95" fill="#1b274c"/>
<circle cx="407.2" cy="119.3" r="1.95" fill="#1b274c"/>
<circle cx="407.2" cy="126.8" r="1.95" fill="#1b274c"/>
<circle cx="407.2" cy="129.8" r="1.95" fill="#1b274c"/>
<circle cx="407.2" cy="135.8" r="1.95" fill="#1b274c"/>
<circle cx="407.2" cy="138.8" r="1.95" fill="#1b274c"/>
<circle cx="411.2" cy="96.9" r="1.95" fill="#1b274c"/>
<circle cx="411.2" cy="99.1" r="1.95" fill="#1b274c"/>
<circle cx="411.2" cy="101.4" r="1.95" fill="#1b274c"/>
<circle cx="411.2" cy="103.6" r="1.95" fill="#1b274c"/>
<circle cx="411.2" cy="105.9" r="1.95" fill="#1b274c"/>
<circle cx="411.2" cy="133.5" r="1.95" fill="#1b274c"/>
<circle cx="415" cy="112.6" r="1.95" fill="#1b274c"/>
<circle cx="420.2" cy="79" r="1.95" fill="#1b274c"/>
<circle cx="420.2" cy="89.4" r="1.95" fill="#1b274c"/>
<circle cx="420.2" cy="93.9" r="1.95" fill="#1b274c"/>
<circle cx="420.2" cy="113.3" r="1.95" fill="#1b274c"/>
<circle cx="420.2" cy="114.8" r="1.95" fill="#1b274c"/>
<circle cx="424.7" cy="76" r="1.95" fill="#1b274c"/>
<circle cx="424.7" cy="78.2" r="1.95" fill="#1b274c"/>
<circle cx="424.7" cy="80.5" r="1.95" fill="#1b274c"/>
<circle cx="424.7" cy="87.9" r="1.95" fill="#1b274c"/>
<circle cx="424.7" cy="90.9" r="1.95" fill="#1b274c"/>
<circle cx="424.7" cy="93.9" r="1.95" fill="#1b274c"/>
<circle cx="424.7" cy="97.7" r="1.95" fill="#1b274c"/>
<circle cx="424.7" cy="102.9" r="1.95" fill="#1b274c"/>
<circle cx="424.7" cy="105.9" r="1.95" fill="#1b274c"/>
<circle cx="424.7" cy="108.1" r="1.95" fill="#1b274c"/>
<circle cx="424.7" cy="110.4" r="1.95" fill="#1b274c"/>
<circle cx="424.7" cy="112.6" r="1.95" fill="#1b274c"/>
<circle cx="424.7" cy="114.8" r="1.95" fill="#1b274c"/>
<circle cx="424.7" cy="117.1" r="1.95" fill="#1b274c"/>
<circle cx="424.7" cy="123.1" r="1.95" fill="#1b274c"/>
<circle cx="424.7" cy="129.8" r="1.95" fill="#1b274c"/>
<circle cx="424.7" cy="133.5" r="1.95" fill="#1b274c"/>
<circle cx="422.4" cy="129.8" r="1.95" fill="#1b274c"/>
<circle cx="426.2" cy="87.9" r="1.95" fill="#1b274c"/>
<circle cx="426.2" cy="96.9" r="1.95" fill="#1b274c"/>
<circle cx="426.2" cy="129.8" r="1.95" fill="#1b274c"/>
<circle cx="432.9" cy="76" r="1.95" fill="#1b274c"/>
<circle cx="432.9" cy="89.4" r="1.95" fill="#1b274c"/>
<circle cx="437.4" cy="76" r="1.95" fill="#1b274c"/>
<circle cx="437.4" cy="84.9" r="1.95" fill="#1b274c"/>
<circle cx="437.4" cy="89.4" r="1.95" fill="#1b274c"/>
<circle cx="437.4" cy="125.3" r="1.95" fill="#1b274c"/>
<circle cx="437.4" cy="126.8" r="1.95" fill="#1b274c"/>
<circle cx="437.4" cy="134.3" r="1.95" fill="#1b274c"/>
<circle cx="437.4" cy="135.8" r="1.95" fill="#1b274c"/>
<circle cx="439.6" cy="74.5" r="1.95" fill="#1b274c"/>
<circle cx="439.6" cy="78.2" r="1.95" fill="#1b274c"/>
<circle cx="439.6" cy="89.4" r="1.95" fill="#1b274c"/>
<circle cx="439.6" cy="96.9" r="1.95" fill="#1b274c"/>
<circle cx="439.6" cy="120.1" r="1.95" fill="#1b274c"/>
<circle cx="439.6" cy="121.6" r="1.95" fill="#1b274c"/>
<circle cx="439.6" cy="123.8" r="1.95" fill="#1b274c"/>
<circle cx="439.6" cy="126.1" r="1.95" fill="#1b274c"/>
<circle cx="439.6" cy="127.5" r="1.95" fill="#1b274c"/>
<circle cx="439.6" cy="132" r="1.95" fill="#1b274c"/>
<circle cx="439.6" cy="139.5" r="1.95" fill="#1b274c"/>
<circle cx="443.4" cy="96.9" r="1.95" fill="#1b274c"/>
<circle cx="443.4" cy="106.6" r="1.95" fill="#1b274c"/>
<circle cx="443.4" cy="121.6" r="1.95" fill="#1b274c"/>
<circle cx="443.4" cy="123.1" r="1.95" fill="#1b274c"/>
<circle cx="450.1" cy="76" r="1.95" fill="#1b274c"/>
<circle cx="450.1" cy="82.7" r="1.95" fill="#1b274c"/>
<circle cx="450.1" cy="86.4" r="1.95" fill="#1b274c"/>
<circle cx="450.1" cy="88.7" r="1.95" fill="#1b274c"/>
<circle cx="450.1" cy="94.7" r="1.95" fill="#1b274c"/>
<circle cx="450.1" cy="99.1" r="1.95" fill="#1b274c"/>
<circle cx="450.1" cy="100.6" r="1.95" fill="#1b274c"/>
<circle cx="450.1" cy="122.3" r="1.95" fill="#1b274c"/>
<circle cx="450.1" cy="139.5" r="1.95" fill="#1b274c"/>
<circle cx="452.3" cy="76.7" r="1.95" fill="#1b274c"/>
<circle cx="452.3" cy="87.9" r="1.95" fill="#1b274c"/>
<circle cx="452.3" cy="98.4" r="1.95" fill="#1b274c"/>
<circle cx="452.3" cy="132" r="1.95" fill="#1b274c"/>
<circle cx="456.8" cy="87.9" r="1.95" fill="#1b274c"/>
<circle cx="456.8" cy="89.4" r="1.95" fill="#1b274c"/>
<circle cx="456.8" cy="96.2" r="1.95" fill="#1b274c"/>
<circle cx="456.8" cy="98.4" r="1.95" fill="#1b274c"/>
<circle cx="456.8" cy="104.4" r="1.95" fill="#1b274c"/>
<circle cx="456.8" cy="106.6" r="1.95" fill="#1b274c"/>
<circle cx="456.8" cy="123.8" r="1.95" fill="#1b274c"/>
<circle cx="456.8" cy="129" r="1.95" fill="#1b274c"/>
<circle cx="459.1" cy="129.8" r="1.95" fill="#1b274c"/>
<circle cx="469.1" cy="81.2" r="1.95" fill="#1b274c"/>
<circle cx="469.1" cy="93.2" r="1.95" fill="#1b274c"/>
<circle cx="469.1" cy="102.1" r="1.95" fill="#1b274c"/>
<circle cx="469.1" cy="121.6" r="1.95" fill="#1b274c"/>
<circle cx="469.1" cy="124.6" r="1.95" fill="#1b274c"/>
<circle cx="469.1" cy="127.5" r="1.95" fill="#1b274c"/>
<circle cx="469.1" cy="136.5" r="1.95" fill="#1b274c"/>
<circle cx="469.1" cy="138.8" r="1.95" fill="#1b274c"/>
<circle cx="471.8" cy="109.6" r="1.95" fill="#1b274c"/>
<circle cx="471.8" cy="111.9" r="1.95" fill="#1b274c"/>
<circle cx="471.8" cy="138.8" r="1.95" fill="#1b274c"/>
<circle cx="484.5" cy="75.2" r="1.95" fill="#1b274c"/>
<circle cx="484.5" cy="76.7" r="1.95" fill="#1b274c"/>
<circle cx="484.5" cy="104.4" r="1.95" fill="#1b274c"/>
<circle cx="484.5" cy="111.1" r="1.95" fill="#1b274c"/>
<circle cx="328.7" cy="171.7" r="1.95" fill="#1b274c"/>
<circle cx="328.7" cy="186.3" r="1.95" fill="#1b274c"/>
<circle cx="344.4" cy="155.7" r="1.95" fill="#1b274c"/>
<circle cx="344.4" cy="167.7" r="1.95" fill="#1b274c"/>
<circle cx="344.4" cy="202" r="1.95" fill="#1b274c"/>
<circle cx="345.9" cy="148.2" r="1.95" fill="#1b274c"/>
<circle cx="348.6" cy="146.7" r="1.95" fill="#1b274c"/>
<circle cx="348.6" cy="157.2" r="1.95" fill="#1b274c"/>
<circle cx="348.6" cy="168.1" r="1.95" fill="#1b274c"/>
<circle cx="348.6" cy="178.9" r="1.95" fill="#1b274c"/>
<circle cx="348.6" cy="186.3" r="1.95" fill="#1b274c"/>
<circle cx="348.6" cy="194.1" r="1.95" fill="#1b274c"/>
<circle cx="356.1" cy="157.9" r="1.95" fill="#1b274c"/>
<circle cx="356.1" cy="187.5" r="1.95" fill="#1b274c"/>
<circle cx="361.6" cy="161.2" r="1.95" fill="#1b274c"/>
<circle cx="361.6" cy="176.6" r="1.95" fill="#1b274c"/>
<circle cx="364.1" cy="143" r="1.95" fill="#1b274c"/>
<circle cx="364.1" cy="145.2" r="1.95" fill="#1b274c"/>
<circle cx="364.1" cy="147.5" r="1.95" fill="#1b274c"/>
<circle cx="364.1" cy="149.7" r="1.95" fill="#1b274c"/>
<circle cx="364.1" cy="151.2" r="1.95" fill="#1b274c"/>
<circle cx="364.1" cy="166.2" r="1.95" fill="#1b274c"/>
<circle cx="364.1" cy="177.4" r="1.95" fill="#1b274c"/>
<circle cx="364.1" cy="182.2" r="1.95" fill="#1b274c"/>
<circle cx="366.8" cy="159.4" r="1.95" fill="#1b274c"/>
<circle cx="366.8" cy="160.9" r="1.95" fill="#1b274c"/>
<circle cx="366.8" cy="172.9" r="1.95" fill="#1b274c"/>
<circle cx="366.8" cy="186.3" r="1.95" fill="#1b274c"/>
<circle cx="366.8" cy="199.1" r="1.95" fill="#1b274c"/>
<circle cx="369.5" cy="183.1" r="1.95" fill="#1b274c"/>
<circle cx="375.8" cy="145.7" r="1.95" fill="#1b274c"/>
<circle cx="375.8" cy="166.9" r="1.95" fill="#1b274c"/>
<circle cx="375.8" cy="169.2" r="1.95" fill="#1b274c"/>
<circle cx="375.8" cy="176.6" r="1.95" fill="#1b274c"/>
<circle cx="375.8" cy="187.8" r="1.95" fill="#1b274c"/>
<circle cx="377.3" cy="176.2" r="1.95" fill="#1b274c"/>
<circle cx="381.8" cy="143.7" r="1.95" fill="#1b274c"/>
<circle cx="381.8" cy="153.5" r="1.95" fill="#1b274c"/>
<circle cx="381.8" cy="160.6" r="1.95" fill="#1b274c"/>
<circle cx="381.8" cy="175.1" r="1.95" fill="#1b274c"/>
<circle cx="389.2" cy="156.5" r="1.95" fill="#1b274c"/>
<circle cx="389.2" cy="164.2" r="1.95" fill="#1b274c"/>
<circle cx="389.2" cy="177.7" r="1.95" fill="#1b274c"/>
<circle cx="389.2" cy="183.1" r="1.95" fill="#1b274c"/>
<circle cx="393" cy="143" r="1.95" fill="#1b274c"/>
<circle cx="393" cy="146.7" r="1.95" fill="#1b274c"/>
<circle cx="393" cy="149.7" r="1.95" fill="#1b274c"/>
<circle cx="393" cy="152" r="1.95" fill="#1b274c"/>
<circle cx="393" cy="154.2" r="1.95" fill="#1b274c"/>
<circle cx="393" cy="165.4" r="1.95" fill="#1b274c"/>
<circle cx="393" cy="166.9" r="1.95" fill="#1b274c"/>
<circle cx="393" cy="190.5" r="1.95" fill="#1b274c"/>
<circle cx="393" cy="196.1" r="1.95" fill="#1b274c"/>
<circle cx="396.7" cy="162.4" r="1.95" fill="#1b274c"/>
<circle cx="396.7" cy="193.8" r="1.95" fill="#1b274c"/>
<circle cx="399.4" cy="149.7" r="1.95" fill="#1b274c"/>
<circle cx="399.4" cy="175.1" r="1.95" fill="#1b274c"/>
<circle cx="399.4" cy="182.2" r="1.95" fill="#1b274c"/>
<circle cx="407.2" cy="145.2" r="1.95" fill="#1b274c"/>
<circle cx="407.2" cy="152" r="1.95" fill="#1b274c"/>
<circle cx="407.2" cy="157.2" r="1.95" fill="#1b274c"/>
<circle cx="407.2" cy="162.4" r="1.95" fill="#1b274c"/>
<circle cx="407.2" cy="163.9" r="1.95" fill="#1b274c"/>
<circle cx="407.2" cy="167.7" r="1.95" fill="#1b274c"/>
<circle cx="407.2" cy="169.9" r="1.95" fill="#1b274c"/>
<circle cx="407.2" cy="172.1" r="1.95" fill="#1b274c"/>
<circle cx="407.2" cy="174.4" r="1.95" fill="#1b274c"/>
<circle cx="407.2" cy="186.3" r="1.95" fill="#1b274c"/>
<circle cx="411.2" cy="145.2" r="1.95" fill="#1b274c"/>
<circle cx="411.2" cy="146.7" r="1.95" fill="#1b274c"/>
<circle cx="411.2" cy="153.5" r="1.95" fill="#1b274c"/>
<circle cx="411.2" cy="155" r="1.95" fill="#1b274c"/>
<circle cx="411.2" cy="171.7" r="1.95" fill="#1b274c"/>
<circle cx="420.6" cy="158.4" r="1.95" fill="#1b274c"/>
<circle cx="420.6" cy="186.3" r="1.95" fill="#1b274c"/>
<circle cx="424.7" cy="144.5" r="1.95" fill="#1b274c"/>
<circle cx="424.7" cy="150.5" r="1.95" fill="#1b274c"/>
<circle cx="424.7" cy="152.7" r="1.95" fill="#1b274c"/>
<circle cx="424.7" cy="154.7" r="1.95" fill="#1b274c"/>
<circle cx="424.7" cy="160.9" r="1.95" fill="#1b274c"/>
<circle cx="426.6" cy="162.1" r="1.95" fill="#1b274c"/>
<circle cx="432.9" cy="144.2" r="1.95" fill="#1b274c"/>
<circle cx="440.1" cy="179.6" r="1.95" fill="#1b274c"/>
<line x1="321.1" y1="146" x2="487.5" y2="89.4" stroke="#141c38" stroke-width="1.4"/>
<path d="M311.8,1.5V218H496.8" fill="none" stroke="#2a2a2a" stroke-width="1"/>
<line x1="306.3" y1="15.75" x2="311.8" y2="15.75" stroke="#2a2a2a" stroke-width="1"/>
<text x="303.8" y="21.55" text-anchor="end" class="t">35</text>
<line x1="306.3" y1="80.19" x2="311.8" y2="80.19" stroke="#2a2a2a" stroke-width="1"/>
<text x="303.8" y="85.99" text-anchor="end" class="t">30</text>
<line x1="306.3" y1="144.63" x2="311.8" y2="144.63" stroke="#2a2a2a" stroke-width="1"/>
<text x="303.8" y="150.43" text-anchor="end" class="t">25</text>
<line x1="306.3" y1="209.07" x2="311.8" y2="209.07" stroke="#2a2a2a" stroke-width="1"/>
<text x="303.8" y="214.87" text-anchor="end" class="t">20</text>
<line x1="320.8" y1="218" x2="320.8" y2="224" stroke="#2a2a2a" stroke-width="1"/>
<text x="320.8" y="238.6" text-anchor="middle" class="t">-3</text>
<line x1="348.67" y1="218" x2="348.67" y2="224" stroke="#2a2a2a" stroke-width="1"/>
<text x="348.67" y="238.6" text-anchor="middle" class="t">-2</text>
<line x1="376.54" y1="218" x2="376.54" y2="224" stroke="#2a2a2a" stroke-width="1"/>
<text x="376.54" y="238.6" text-anchor="middle" class="t">-1</text>
<line x1="404.41" y1="218" x2="404.41" y2="224" stroke="#2a2a2a" stroke-width="1"/>
<text x="404.41" y="238.6" text-anchor="middle" class="t">0</text>
<line x1="432.28" y1="218" x2="432.28" y2="224" stroke="#2a2a2a" stroke-width="1"/>
<text x="432.28" y="238.6" text-anchor="middle" class="t">1</text>
<line x1="460.15" y1="218" x2="460.15" y2="224" stroke="#2a2a2a" stroke-width="1"/>
<text x="460.15" y="238.6" text-anchor="middle" class="t">2</text>
<line x1="488.02" y1="218" x2="488.02" y2="224" stroke="#2a2a2a" stroke-width="1"/>
<text x="488.02" y="238.6" text-anchor="middle" class="t">3</text>
<text transform="translate(267.2,109.75) rotate(-90)" text-anchor="middle" class="ti">Naming</text>
<line x1="61.5" y1="258" x2="245.5" y2="258" stroke="#e9eced" stroke-width="1"/>
<line x1="61.5" y1="307.75" x2="245.5" y2="307.75" stroke="#e9eced" stroke-width="1"/>
<line x1="61.5" y1="357.5" x2="245.5" y2="357.5" stroke="#e9eced" stroke-width="1"/>
<line x1="61.5" y1="407.25" x2="245.5" y2="407.25" stroke="#e9eced" stroke-width="1"/>
<polygon points="77.7,345.32 81.58,344.61 85.45,343.9 89.33,343.19 93.2,342.47 97.08,341.75 100.95,341.02 104.83,340.29 108.7,339.55 112.58,338.8 116.45,338.04 120.33,337.27 124.2,336.49 128.07,335.68 131.95,334.85 135.82,333.99 139.7,333.1 143.57,332.16 147.45,331.18 151.32,330.13 155.2,329.03 159.07,327.85 162.95,326.61 166.82,325.31 170.7,323.95 174.57,322.55 178.45,321.1 182.32,319.63 186.2,318.12 190.07,316.59 193.95,315.05 197.82,313.48 201.7,311.91 205.57,310.33 209.45,308.73 213.32,307.13 217.2,305.52 221.07,303.91 224.95,302.3 228.82,300.68 232.7,299.05 232.7,319.25 228.82,319.98 224.95,320.7 221.07,321.43 217.2,322.17 213.32,322.91 209.45,323.66 205.57,324.41 201.7,325.18 197.82,325.95 193.95,326.74 190.07,327.54 186.2,328.36 182.32,329.2 178.45,330.07 174.57,330.98 170.7,331.92 166.82,332.91 162.95,333.96 159.07,335.07 155.2,336.24 151.32,337.48 147.45,338.78 143.57,340.15 139.7,341.56 135.82,343.02 131.95,344.51 128.07,346.02 124.2,347.57 120.33,349.13 116.45,350.7 112.58,352.29 108.7,353.89 104.83,355.5 100.95,357.12 97.08,358.74 93.2,360.37 89.33,362 85.45,363.63 81.58,365.27 77.7,366.92" fill="#f7d4de"/>
<circle cx="113.1" cy="301.6" r="1.95" fill="#a50c3a"/>
<circle cx="104.6" cy="320.7" r="1.95" fill="#a50c3a"/>
<circle cx="124.8" cy="290.1" r="1.95" fill="#a50c3a"/>
<circle cx="124.8" cy="294.5" r="1.95" fill="#a50c3a"/>
<circle cx="124.8" cy="312" r="1.95" fill="#a50c3a"/>
<circle cx="124.8" cy="317.3" r="1.95" fill="#a50c3a"/>
<circle cx="124.8" cy="319.5" r="1.95" fill="#a50c3a"/>
<circle cx="124.8" cy="322" r="1.95" fill="#a50c3a"/>
<circle cx="131.1" cy="286.6" r="1.95" fill="#a50c3a"/>
<circle cx="131.1" cy="305" r="1.95" fill="#a50c3a"/>
<circle cx="131.1" cy="314" r="1.95" fill="#a50c3a"/>
<circle cx="130.8" cy="323.1" r="1.95" fill="#a50c3a"/>
<circle cx="130.3" cy="300.5" r="1.95" fill="#a50c3a"/>
<circle cx="138.2" cy="295.6" r="1.95" fill="#a50c3a"/>
<circle cx="138.2" cy="305.8" r="1.95" fill="#a50c3a"/>
<circle cx="141.7" cy="284.4" r="1.95" fill="#a50c3a"/>
<circle cx="141.7" cy="299.6" r="1.95" fill="#a50c3a"/>
<circle cx="143" cy="285.4" r="1.95" fill="#a50c3a"/>
<circle cx="142.4" cy="297.5" r="1.95" fill="#a50c3a"/>
<circle cx="142.4" cy="312.8" r="1.95" fill="#a50c3a"/>
<circle cx="142.4" cy="316.5" r="1.95" fill="#a50c3a"/>
<circle cx="142.4" cy="319.5" r="1.95" fill="#a50c3a"/>
<circle cx="142.2" cy="321.6" r="1.95" fill="#a50c3a"/>
<circle cx="148.3" cy="296" r="1.95" fill="#a50c3a"/>
<circle cx="148.3" cy="304.6" r="1.95" fill="#a50c3a"/>
<circle cx="156.2" cy="282.9" r="1.95" fill="#a50c3a"/>
<circle cx="156.2" cy="297.8" r="1.95" fill="#a50c3a"/>
<circle cx="156.2" cy="306.1" r="1.95" fill="#a50c3a"/>
<circle cx="156.2" cy="308.3" r="1.95" fill="#a50c3a"/>
<circle cx="156.2" cy="310.5" r="1.95" fill="#a50c3a"/>
<circle cx="156.2" cy="312.8" r="1.95" fill="#a50c3a"/>
<circle cx="156.2" cy="315" r="1.95" fill="#a50c3a"/>
<circle cx="156.2" cy="318" r="1.95" fill="#a50c3a"/>
<circle cx="156.2" cy="322" r="1.95" fill="#a50c3a"/>
<circle cx="159.8" cy="288.1" r="1.95" fill="#a50c3a"/>
<circle cx="159.8" cy="290.4" r="1.95" fill="#a50c3a"/>
<circle cx="159.8" cy="292.6" r="1.95" fill="#a50c3a"/>
<circle cx="159.8" cy="318" r="1.95" fill="#a50c3a"/>
<circle cx="169.2" cy="293.8" r="1.95" fill="#a50c3a"/>
<circle cx="169.2" cy="303.1" r="1.95" fill="#a50c3a"/>
<circle cx="169.2" cy="312.8" r="1.95" fill="#a50c3a"/>
<circle cx="169.2" cy="322.7" r="1.95" fill="#a50c3a"/>
<circle cx="173.2" cy="275.9" r="1.95" fill="#a50c3a"/>
<circle cx="173.2" cy="300.1" r="1.95" fill="#a50c3a"/>
<circle cx="173.2" cy="305.3" r="1.95" fill="#a50c3a"/>
<circle cx="173.2" cy="307.5" r="1.95" fill="#a50c3a"/>
<circle cx="173.2" cy="310.5" r="1.95" fill="#a50c3a"/>
<circle cx="173.2" cy="312.8" r="1.95" fill="#a50c3a"/>
<circle cx="173.2" cy="315" r="1.95" fill="#a50c3a"/>
<circle cx="173.2" cy="317.3" r="1.95" fill="#a50c3a"/>
<circle cx="173.2" cy="319.8" r="1.95" fill="#a50c3a"/>
<circle cx="173.2" cy="322" r="1.95" fill="#a50c3a"/>
<circle cx="175.2" cy="311.3" r="1.95" fill="#a50c3a"/>
<circle cx="175.2" cy="314.3" r="1.95" fill="#a50c3a"/>
<circle cx="181.6" cy="295.6" r="1.95" fill="#a50c3a"/>
<circle cx="181.6" cy="312.5" r="1.95" fill="#a50c3a"/>
<circle cx="181.6" cy="320.4" r="1.95" fill="#a50c3a"/>
<circle cx="186.4" cy="299.3" r="1.95" fill="#a50c3a"/>
<circle cx="186.4" cy="301.6" r="1.95" fill="#a50c3a"/>
<circle cx="188.6" cy="287.4" r="1.95" fill="#a50c3a"/>
<circle cx="188.6" cy="300.1" r="1.95" fill="#a50c3a"/>
<circle cx="188.6" cy="308.7" r="1.95" fill="#a50c3a"/>
<circle cx="188.6" cy="315.8" r="1.95" fill="#a50c3a"/>
<circle cx="188.6" cy="321.7" r="1.95" fill="#a50c3a"/>
<circle cx="192.4" cy="308.7" r="1.95" fill="#a50c3a"/>
<circle cx="198.6" cy="291.9" r="1.95" fill="#a50c3a"/>
<circle cx="198.6" cy="293.3" r="1.95" fill="#a50c3a"/>
<circle cx="198.6" cy="299" r="1.95" fill="#a50c3a"/>
<circle cx="198.6" cy="306.8" r="1.95" fill="#a50c3a"/>
<circle cx="198.6" cy="309" r="1.95" fill="#a50c3a"/>
<circle cx="198.6" cy="311.3" r="1.95" fill="#a50c3a"/>
<circle cx="200.6" cy="309" r="1.95" fill="#a50c3a"/>
<circle cx="200.6" cy="317.3" r="1.95" fill="#a50c3a"/>
<circle cx="205.5" cy="297.5" r="1.95" fill="#a50c3a"/>
<circle cx="205.5" cy="309" r="1.95" fill="#a50c3a"/>
<circle cx="205.5" cy="311.3" r="1.95" fill="#a50c3a"/>
<circle cx="205.5" cy="313.5" r="1.95" fill="#a50c3a"/>
<circle cx="214" cy="305.3" r="1.95" fill="#a50c3a"/>
<circle cx="217.8" cy="286.3" r="1.95" fill="#a50c3a"/>
<circle cx="217.8" cy="294.8" r="1.95" fill="#a50c3a"/>
<circle cx="217.8" cy="299" r="1.95" fill="#a50c3a"/>
<circle cx="217.8" cy="302.6" r="1.95" fill="#a50c3a"/>
<circle cx="217.8" cy="304.6" r="1.95" fill="#a50c3a"/>
<circle cx="217.8" cy="306.5" r="1.95" fill="#a50c3a"/>
<circle cx="217.8" cy="314.3" r="1.95" fill="#a50c3a"/>
<circle cx="217.8" cy="316.5" r="1.95" fill="#a50c3a"/>
<circle cx="220.8" cy="312" r="1.95" fill="#a50c3a"/>
<circle cx="233" cy="297.1" r="1.95" fill="#a50c3a"/>
<circle cx="77.4" cy="362.6" r="1.95" fill="#a50c3a"/>
<circle cx="93.4" cy="382.8" r="1.95" fill="#a50c3a"/>
<circle cx="94.4" cy="349.9" r="1.95" fill="#a50c3a"/>
<circle cx="94.1" cy="367.5" r="1.95" fill="#a50c3a"/>
<circle cx="97.1" cy="343.2" r="1.95" fill="#a50c3a"/>
<circle cx="97.1" cy="345.4" r="1.95" fill="#a50c3a"/>
<circle cx="97.1" cy="346.9" r="1.95" fill="#a50c3a"/>
<circle cx="97.1" cy="358.1" r="1.95" fill="#a50c3a"/>
<circle cx="97.1" cy="362.6" r="1.95" fill="#a50c3a"/>
<circle cx="97.1" cy="367.5" r="1.95" fill="#a50c3a"/>
<circle cx="97.1" cy="372.3" r="1.95" fill="#a50c3a"/>
<circle cx="104.6" cy="337.9" r="1.95" fill="#a50c3a"/>
<circle cx="104.6" cy="373.8" r="1.95" fill="#a50c3a"/>
<circle cx="113.1" cy="337.9" r="1.95" fill="#a50c3a"/>
<circle cx="113.1" cy="343.9" r="1.95" fill="#a50c3a"/>
<circle cx="113.1" cy="355.9" r="1.95" fill="#a50c3a"/>
<circle cx="113.1" cy="358.1" r="1.95" fill="#a50c3a"/>
<circle cx="113.1" cy="360.4" r="1.95" fill="#a50c3a"/>
<circle cx="113.1" cy="370.8" r="1.95" fill="#a50c3a"/>
<circle cx="113.1" cy="372.3" r="1.95" fill="#a50c3a"/>
<circle cx="113.1" cy="377.2" r="1.95" fill="#a50c3a"/>
<circle cx="115.1" cy="330.2" r="1.95" fill="#a50c3a"/>
<circle cx="114.3" cy="359.3" r="1.95" fill="#a50c3a"/>
<circle cx="121.5" cy="359.3" r="1.95" fill="#a50c3a"/>
<circle cx="124.8" cy="330.5" r="1.95" fill="#a50c3a"/>
<circle cx="124.8" cy="332.7" r="1.95" fill="#a50c3a"/>
<circle cx="124.8" cy="337.2" r="1.95" fill="#a50c3a"/>
<circle cx="124.8" cy="342.4" r="1.95" fill="#a50c3a"/>
<circle cx="124.8" cy="343.9" r="1.95" fill="#a50c3a"/>
<circle cx="124.8" cy="350.6" r="1.95" fill="#a50c3a"/>
<circle cx="124.8" cy="357.4" r="1.95" fill="#a50c3a"/>
<circle cx="124.8" cy="360.4" r="1.95" fill="#a50c3a"/>
<circle cx="130.5" cy="326" r="1.95" fill="#a50c3a"/>
<circle cx="130.5" cy="329" r="1.95" fill="#a50c3a"/>
<circle cx="130.5" cy="338.7" r="1.95" fill="#a50c3a"/>
<circle cx="130.5" cy="344.7" r="1.95" fill="#a50c3a"/>
<circle cx="130.5" cy="372.3" r="1.95" fill="#a50c3a"/>
<circle cx="130.5" cy="374.6" r="1.95" fill="#a50c3a"/>
<circle cx="130.5" cy="385" r="1.95" fill="#a50c3a"/>
<circle cx="132.6" cy="329" r="1.95" fill="#a50c3a"/>
<circle cx="132.6" cy="351.8" r="1.95" fill="#a50c3a"/>
<circle cx="132.6" cy="368.6" r="1.95" fill="#a50c3a"/>
<circle cx="138.2" cy="328.2" r="1.95" fill="#a50c3a"/>
<circle cx="138.2" cy="335.7" r="1.95" fill="#a50c3a"/>
<circle cx="138.2" cy="350.6" r="1.95" fill="#a50c3a"/>
<circle cx="138.2" cy="360.4" r="1.95" fill="#a50c3a"/>
<circle cx="142" cy="323.7" r="1.95" fill="#a50c3a"/>
<circle cx="142" cy="331.2" r="1.95" fill="#a50c3a"/>
<circle cx="142" cy="332.7" r="1.95" fill="#a50c3a"/>
<circle cx="142" cy="334.9" r="1.95" fill="#a50c3a"/>
<circle cx="142" cy="342.4" r="1.95" fill="#a50c3a"/>
<circle cx="142" cy="349.1" r="1.95" fill="#a50c3a"/>
<circle cx="142" cy="351.4" r="1.95" fill="#a50c3a"/>
<circle cx="142" cy="358.1" r="1.95" fill="#a50c3a"/>
<circle cx="142" cy="359.6" r="1.95" fill="#a50c3a"/>
<circle cx="144.2" cy="333.5" r="1.95" fill="#a50c3a"/>
<circle cx="144.2" cy="334.9" r="1.95" fill="#a50c3a"/>
<circle cx="144.2" cy="340.2" r="1.95" fill="#a50c3a"/>
<circle cx="144.2" cy="352.1" r="1.95" fill="#a50c3a"/>
<circle cx="142.4" cy="364.8" r="1.95" fill="#a50c3a"/>
<circle cx="148.4" cy="332" r="1.95" fill="#a50c3a"/>
<circle cx="148.4" cy="336.1" r="1.95" fill="#a50c3a"/>
<circle cx="148.3" cy="366" r="1.95" fill="#a50c3a"/>
<circle cx="156.2" cy="333.5" r="1.95" fill="#a50c3a"/>
<circle cx="156.2" cy="335.7" r="1.95" fill="#a50c3a"/>
<circle cx="156.2" cy="343.2" r="1.95" fill="#a50c3a"/>
<circle cx="156.2" cy="349.9" r="1.95" fill="#a50c3a"/>
<circle cx="156.2" cy="359.6" r="1.95" fill="#a50c3a"/>
<circle cx="156.2" cy="364.1" r="1.95" fill="#a50c3a"/>
<circle cx="156.2" cy="366.3" r="1.95" fill="#a50c3a"/>
<circle cx="156.2" cy="368.6" r="1.95" fill="#a50c3a"/>
<circle cx="156.2" cy="370.8" r="1.95" fill="#a50c3a"/>
<circle cx="156.2" cy="377.5" r="1.95" fill="#a50c3a"/>
<circle cx="156.2" cy="385" r="1.95" fill="#a50c3a"/>
<circle cx="156.2" cy="388.8" r="1.95" fill="#a50c3a"/>
<circle cx="156.7" cy="392.7" r="1.95" fill="#a50c3a"/>
<circle cx="159.8" cy="338.7" r="1.95" fill="#a50c3a"/>
<circle cx="159.8" cy="340.9" r="1.95" fill="#a50c3a"/>
<circle cx="159.8" cy="343.2" r="1.95" fill="#a50c3a"/>
<circle cx="159.8" cy="352.9" r="1.95" fill="#a50c3a"/>
<circle cx="161.3" cy="381.3" r="1.95" fill="#a50c3a"/>
<circle cx="170.7" cy="340.2" r="1.95" fill="#a50c3a"/>
<circle cx="170.7" cy="362.6" r="1.95" fill="#a50c3a"/>
<circle cx="173.2" cy="324.5" r="1.95" fill="#a50c3a"/>
<circle cx="173.2" cy="326.7" r="1.95" fill="#a50c3a"/>
<circle cx="173.2" cy="331.2" r="1.95" fill="#a50c3a"/>
<circle cx="173.2" cy="333.5" r="1.95" fill="#a50c3a"/>
<circle cx="173.2" cy="335.7" r="1.95" fill="#a50c3a"/>
<circle cx="173.2" cy="337.9" r="1.95" fill="#a50c3a"/>
<circle cx="173.2" cy="347.7" r="1.95" fill="#a50c3a"/>
<circle cx="173.2" cy="349.9" r="1.95" fill="#a50c3a"/>
<circle cx="173.2" cy="352.1" r="1.95" fill="#a50c3a"/>
<circle cx="173.2" cy="354.4" r="1.95" fill="#a50c3a"/>
<circle cx="173.2" cy="370.8" r="1.95" fill="#a50c3a"/>
<circle cx="173.2" cy="380.5" r="1.95" fill="#a50c3a"/>
<circle cx="175.2" cy="329.7" r="1.95" fill="#a50c3a"/>
<circle cx="175.2" cy="341.7" r="1.95" fill="#a50c3a"/>
<circle cx="175.2" cy="388" r="1.95" fill="#a50c3a"/>
<circle cx="176.7" cy="369.3" r="1.95" fill="#a50c3a"/>
<circle cx="186.4" cy="346.2" r="1.95" fill="#a50c3a"/>
<circle cx="186.4" cy="348.4" r="1.95" fill="#a50c3a"/>
<circle cx="188.6" cy="323.7" r="1.95" fill="#a50c3a"/>
<circle cx="188.6" cy="325.2" r="1.95" fill="#a50c3a"/>
<circle cx="188.6" cy="332" r="1.95" fill="#a50c3a"/>
<circle cx="188.6" cy="337.2" r="1.95" fill="#a50c3a"/>
<circle cx="188.6" cy="339.4" r="1.95" fill="#a50c3a"/>
<circle cx="188.6" cy="356.6" r="1.95" fill="#a50c3a"/>
<circle cx="192.4" cy="365.6" r="1.95" fill="#a50c3a"/>
<circle cx="198.6" cy="329.3" r="1.95" fill="#a50c3a"/>
<circle cx="198.6" cy="337.2" r="1.95" fill="#a50c3a"/>
<circle cx="198.6" cy="342.4" r="1.95" fill="#a50c3a"/>
<circle cx="198.6" cy="349.9" r="1.95" fill="#a50c3a"/>
<circle cx="200.6" cy="352.1" r="1.95" fill="#a50c3a"/>
<circle cx="201.8" cy="384.3" r="1.95" fill="#a50c3a"/>
<circle cx="205.5" cy="331.7" r="1.95" fill="#a50c3a"/>
<circle cx="217.8" cy="323.7" r="1.95" fill="#a50c3a"/>
<circle cx="217.8" cy="325.7" r="1.95" fill="#a50c3a"/>
<circle cx="217.8" cy="332" r="1.95" fill="#a50c3a"/>
<circle cx="217.8" cy="334.2" r="1.95" fill="#a50c3a"/>
<circle cx="217.8" cy="340.9" r="1.95" fill="#a50c3a"/>
<circle cx="220.8" cy="343.2" r="1.95" fill="#a50c3a"/>
<circle cx="233" cy="332" r="1.95" fill="#a50c3a"/>
<circle cx="104.6" cy="424.7" r="1.95" fill="#a50c3a"/>
<circle cx="130.3" cy="396.7" r="1.95" fill="#a50c3a"/>
<circle cx="132.6" cy="401.2" r="1.95" fill="#a50c3a"/>
<line x1="69.5" y1="358.6" x2="236.5" y2="308" stroke="#960c38" stroke-width="1.4"/>
<path d="M60.5,249V466H245.5" fill="none" stroke="#2a2a2a" stroke-width="1"/>
<line x1="55" y1="258" x2="60.5" y2="258" stroke="#2a2a2a" stroke-width="1"/>
<text x="52.5" y="263.8" text-anchor="end" class="t">16</text>
<line x1="55" y1="307.75" x2="60.5" y2="307.75" stroke="#2a2a2a" stroke-width="1"/>
<text x="52.5" y="313.55" text-anchor="end" class="t">14</text>
<line x1="55" y1="357.5" x2="60.5" y2="357.5" stroke="#2a2a2a" stroke-width="1"/>
<text x="52.5" y="363.3" text-anchor="end" class="t">12</text>
<line x1="55" y1="407.25" x2="60.5" y2="407.25" stroke="#2a2a2a" stroke-width="1"/>
<text x="52.5" y="413.05" text-anchor="end" class="t">10</text>
<line x1="55" y1="457" x2="60.5" y2="457" stroke="#2a2a2a" stroke-width="1"/>
<text x="52.5" y="462.8" text-anchor="end" class="t">8</text>
<line x1="69.5" y1="466" x2="69.5" y2="472" stroke="#2a2a2a" stroke-width="1"/>
<text x="69.5" y="486" text-anchor="middle" class="t">-3</text>
<line x1="97.37" y1="466" x2="97.37" y2="472" stroke="#2a2a2a" stroke-width="1"/>
<text x="97.37" y="486" text-anchor="middle" class="t">-2</text>
<line x1="125.24" y1="466" x2="125.24" y2="472" stroke="#2a2a2a" stroke-width="1"/>
<text x="125.24" y="486" text-anchor="middle" class="t">-1</text>
<line x1="153.11" y1="466" x2="153.11" y2="472" stroke="#2a2a2a" stroke-width="1"/>
<text x="153.11" y="486" text-anchor="middle" class="t">0</text>
<line x1="180.98" y1="466" x2="180.98" y2="472" stroke="#2a2a2a" stroke-width="1"/>
<text x="180.98" y="486" text-anchor="middle" class="t">1</text>
<line x1="208.85" y1="466" x2="208.85" y2="472" stroke="#2a2a2a" stroke-width="1"/>
<text x="208.85" y="486" text-anchor="middle" class="t">2</text>
<line x1="236.72" y1="466" x2="236.72" y2="472" stroke="#2a2a2a" stroke-width="1"/>
<text x="236.72" y="486" text-anchor="middle" class="t">3</text>
<text transform="translate(15.9,357.5) rotate(-90)" text-anchor="middle" class="ti">Construct</text>
<line x1="313" y1="258" x2="497" y2="258" stroke="#e9eced" stroke-width="1"/>
<line x1="313" y1="307.66" x2="497" y2="307.66" stroke="#e9eced" stroke-width="1"/>
<line x1="313" y1="357.32" x2="497" y2="357.32" stroke="#e9eced" stroke-width="1"/>
<line x1="313" y1="406.98" x2="497" y2="406.98" stroke="#e9eced" stroke-width="1"/>
<polygon points="329.2,357.65 333.07,356.55 336.94,355.44 340.81,354.34 344.68,353.22 348.55,352.11 352.42,350.98 356.29,349.86 360.16,348.72 364.03,347.58 367.9,346.42 371.77,345.25 375.64,344.07 379.51,342.87 383.38,341.65 387.25,340.39 391.12,339.1 394.99,337.77 398.86,336.39 402.73,334.94 406.6,333.43 410.47,331.86 414.34,330.23 418.21,328.55 422.08,326.83 425.95,325.07 429.82,323.28 433.69,321.46 437.56,319.61 441.43,317.74 445.3,315.86 449.17,313.96 453.04,312.05 456.91,310.13 460.78,308.21 464.65,306.27 468.52,304.33 472.39,302.38 476.26,300.43 480.13,298.48 484,296.52 484,314.52 480.13,315.7 476.26,316.89 472.39,318.08 468.52,319.28 464.65,320.48 460.78,321.68 456.91,322.9 453.04,324.12 449.17,325.35 445.3,326.6 441.43,327.85 437.56,329.13 433.69,330.43 429.82,331.74 425.95,333.09 422.08,334.48 418.21,335.9 414.34,337.36 410.47,338.88 406.6,340.44 402.73,342.07 398.86,343.77 394.99,345.53 391.12,347.34 387.25,349.19 383.38,351.08 379.51,352.99 375.64,354.93 371.77,356.89 367.9,358.87 364.03,360.86 360.16,362.85 356.29,364.86 352.42,366.87 348.55,368.89 344.68,370.92 340.81,372.95 336.94,374.98 333.07,377.01 329.2,379.05" fill="#f7d4de"/>
<circle cx="393" cy="261.5" r="1.95" fill="#a50c3a"/>
<circle cx="393" cy="311.6" r="1.95" fill="#a50c3a"/>
<circle cx="393" cy="319.8" r="1.95" fill="#a50c3a"/>
<circle cx="376.1" cy="285.6" r="1.95" fill="#a50c3a"/>
<circle cx="375.9" cy="320.5" r="1.95" fill="#a50c3a"/>
<circle cx="382.5" cy="287.8" r="1.95" fill="#a50c3a"/>
<circle cx="382.5" cy="315.8" r="1.95" fill="#a50c3a"/>
<circle cx="394" cy="299.8" r="1.95" fill="#a50c3a"/>
<circle cx="394" cy="315" r="1.95" fill="#a50c3a"/>
<circle cx="389.2" cy="304.1" r="1.95" fill="#a50c3a"/>
<circle cx="366.1" cy="320.6" r="1.95" fill="#a50c3a"/>
<circle cx="381.4" cy="322.6" r="1.95" fill="#a50c3a"/>
<circle cx="393.4" cy="321.6" r="1.95" fill="#a50c3a"/>
<circle cx="399.6" cy="323.1" r="1.95" fill="#a50c3a"/>
<circle cx="407.2" cy="293.3" r="1.95" fill="#a50c3a"/>
<circle cx="407.2" cy="309.8" r="1.95" fill="#a50c3a"/>
<circle cx="407.2" cy="312" r="1.95" fill="#a50c3a"/>
<circle cx="407.2" cy="314.3" r="1.95" fill="#a50c3a"/>
<circle cx="407.2" cy="316.5" r="1.95" fill="#a50c3a"/>
<circle cx="407.2" cy="319.4" r="1.95" fill="#a50c3a"/>
<circle cx="409" cy="303.1" r="1.95" fill="#a50c3a"/>
<circle cx="409" cy="305.3" r="1.95" fill="#a50c3a"/>
<circle cx="411.2" cy="305.3" r="1.95" fill="#a50c3a"/>
<circle cx="411.2" cy="309.8" r="1.95" fill="#a50c3a"/>
<circle cx="411.2" cy="312.8" r="1.95" fill="#a50c3a"/>
<circle cx="411.2" cy="315.8" r="1.95" fill="#a50c3a"/>
<circle cx="411.2" cy="319.5" r="1.95" fill="#a50c3a"/>
<circle cx="420.6" cy="306.5" r="1.95" fill="#a50c3a"/>
<circle cx="420.6" cy="312.8" r="1.95" fill="#a50c3a"/>
<circle cx="420.6" cy="315.8" r="1.95" fill="#a50c3a"/>
<circle cx="420.6" cy="318" r="1.95" fill="#a50c3a"/>
<circle cx="422.1" cy="320.3" r="1.95" fill="#a50c3a"/>
<circle cx="424.7" cy="301.6" r="1.95" fill="#a50c3a"/>
<circle cx="424.7" cy="304.6" r="1.95" fill="#a50c3a"/>
<circle cx="424.7" cy="306.8" r="1.95" fill="#a50c3a"/>
<circle cx="424.7" cy="309" r="1.95" fill="#a50c3a"/>
<circle cx="424.7" cy="311.3" r="1.95" fill="#a50c3a"/>
<circle cx="424.7" cy="313.5" r="1.95" fill="#a50c3a"/>
<circle cx="424.7" cy="315.8" r="1.95" fill="#a50c3a"/>
<circle cx="424.7" cy="318" r="1.95" fill="#a50c3a"/>
<circle cx="432.9" cy="295.6" r="1.95" fill="#a50c3a"/>
<circle cx="432.9" cy="306.8" r="1.95" fill="#a50c3a"/>
<circle cx="437.4" cy="288.1" r="1.95" fill="#a50c3a"/>
<circle cx="437.4" cy="309.8" r="1.95" fill="#a50c3a"/>
<circle cx="440.1" cy="291.9" r="1.95" fill="#a50c3a"/>
<circle cx="440.1" cy="306.8" r="1.95" fill="#a50c3a"/>
<circle cx="440.1" cy="312.8" r="1.95" fill="#a50c3a"/>
<circle cx="440.1" cy="315.8" r="1.95" fill="#a50c3a"/>
<circle cx="440.1" cy="318.8" r="1.95" fill="#a50c3a"/>
<circle cx="440.1" cy="320.9" r="1.95" fill="#a50c3a"/>
<circle cx="443.4" cy="320.3" r="1.95" fill="#a50c3a"/>
<circle cx="450.1" cy="293.3" r="1.95" fill="#a50c3a"/>
<circle cx="450.1" cy="295.6" r="1.95" fill="#a50c3a"/>
<circle cx="450.1" cy="297.8" r="1.95" fill="#a50c3a"/>
<circle cx="450.1" cy="303.1" r="1.95" fill="#a50c3a"/>
<circle cx="450.1" cy="306.8" r="1.95" fill="#a50c3a"/>
<circle cx="450.1" cy="311.3" r="1.95" fill="#a50c3a"/>
<circle cx="450.1" cy="318.8" r="1.95" fill="#a50c3a"/>
<circle cx="452.3" cy="299.3" r="1.95" fill="#a50c3a"/>
<circle cx="456.8" cy="301.6" r="1.95" fill="#a50c3a"/>
<circle cx="456.8" cy="306.8" r="1.95" fill="#a50c3a"/>
<circle cx="456.8" cy="317.3" r="1.95" fill="#a50c3a"/>
<circle cx="456.8" cy="321.2" r="1.95" fill="#a50c3a"/>
<circle cx="465.5" cy="298.6" r="1.95" fill="#a50c3a"/>
<circle cx="469.1" cy="288.9" r="1.95" fill="#a50c3a"/>
<circle cx="469.1" cy="293.3" r="1.95" fill="#a50c3a"/>
<circle cx="469.1" cy="300.1" r="1.95" fill="#a50c3a"/>
<circle cx="469.1" cy="302.3" r="1.95" fill="#a50c3a"/>
<circle cx="469.1" cy="304.6" r="1.95" fill="#a50c3a"/>
<circle cx="469.1" cy="314.3" r="1.95" fill="#a50c3a"/>
<circle cx="469.1" cy="320.5" r="1.95" fill="#a50c3a"/>
<circle cx="484" cy="300.8" r="1.95" fill="#a50c3a"/>
<circle cx="484" cy="302.3" r="1.95" fill="#a50c3a"/>
<circle cx="328.7" cy="359.2" r="1.95" fill="#a50c3a"/>
<circle cx="344.4" cy="345.4" r="1.95" fill="#a50c3a"/>
<circle cx="345.9" cy="355.9" r="1.95" fill="#a50c3a"/>
<circle cx="346.6" cy="362.6" r="1.95" fill="#a50c3a"/>
<circle cx="348.6" cy="333.8" r="1.95" fill="#a50c3a"/>
<circle cx="348.6" cy="345.4" r="1.95" fill="#a50c3a"/>
<circle cx="348.6" cy="347.7" r="1.95" fill="#a50c3a"/>
<circle cx="348.6" cy="349.9" r="1.95" fill="#a50c3a"/>
<circle cx="348.6" cy="352.1" r="1.95" fill="#a50c3a"/>
<circle cx="348.6" cy="364.1" r="1.95" fill="#a50c3a"/>
<circle cx="356.1" cy="357.7" r="1.95" fill="#a50c3a"/>
<circle cx="356.1" cy="372.6" r="1.95" fill="#a50c3a"/>
<circle cx="356.1" cy="392.2" r="1.95" fill="#a50c3a"/>
<circle cx="364.1" cy="320.7" r="1.95" fill="#a50c3a"/>
<circle cx="364.1" cy="337.6" r="1.95" fill="#a50c3a"/>
<circle cx="364.1" cy="341.7" r="1.95" fill="#a50c3a"/>
<circle cx="364.1" cy="348.4" r="1.95" fill="#a50c3a"/>
<circle cx="364.1" cy="350.6" r="1.95" fill="#a50c3a"/>
<circle cx="364.1" cy="360.1" r="1.95" fill="#a50c3a"/>
<circle cx="366.1" cy="352.9" r="1.95" fill="#a50c3a"/>
<circle cx="366.1" cy="355.9" r="1.95" fill="#a50c3a"/>
<circle cx="366.1" cy="369" r="1.95" fill="#a50c3a"/>
<circle cx="366.1" cy="389.1" r="1.95" fill="#a50c3a"/>
<circle cx="373.1" cy="360.7" r="1.95" fill="#a50c3a"/>
<circle cx="375.8" cy="322.2" r="1.95" fill="#a50c3a"/>
<circle cx="375.8" cy="324.5" r="1.95" fill="#a50c3a"/>
<circle cx="375.8" cy="337.6" r="1.95" fill="#a50c3a"/>
<circle cx="375.8" cy="339.4" r="1.95" fill="#a50c3a"/>
<circle cx="375.8" cy="343.2" r="1.95" fill="#a50c3a"/>
<circle cx="375.8" cy="348.4" r="1.95" fill="#a50c3a"/>
<circle cx="375.8" cy="349.9" r="1.95" fill="#a50c3a"/>
<circle cx="375.8" cy="355.9" r="1.95" fill="#a50c3a"/>
<circle cx="375.8" cy="358.1" r="1.95" fill="#a50c3a"/>
<circle cx="375.8" cy="360.4" r="1.95" fill="#a50c3a"/>
<circle cx="375.8" cy="362.6" r="1.95" fill="#a50c3a"/>
<circle cx="375.8" cy="364.8" r="1.95" fill="#a50c3a"/>
<circle cx="375.8" cy="366.3" r="1.95" fill="#a50c3a"/>
<circle cx="375.8" cy="373.5" r="1.95" fill="#a50c3a"/>
<circle cx="381.5" cy="331.7" r="1.95" fill="#a50c3a"/>
<circle cx="381.5" cy="334.2" r="1.95" fill="#a50c3a"/>
<circle cx="381.5" cy="339.4" r="1.95" fill="#a50c3a"/>
<circle cx="381.5" cy="343.9" r="1.95" fill="#a50c3a"/>
<circle cx="381.5" cy="350.6" r="1.95" fill="#a50c3a"/>
<circle cx="381.5" cy="352.1" r="1.95" fill="#a50c3a"/>
<circle cx="381.5" cy="367.1" r="1.95" fill="#a50c3a"/>
<circle cx="383.6" cy="346.9" r="1.95" fill="#a50c3a"/>
<circle cx="383.6" cy="391.4" r="1.95" fill="#a50c3a"/>
<circle cx="384" cy="357.4" r="1.95" fill="#a50c3a"/>
<circle cx="382.5" cy="371.6" r="1.95" fill="#a50c3a"/>
<circle cx="382.5" cy="379.8" r="1.95" fill="#a50c3a"/>
<circle cx="384" cy="381.6" r="1.95" fill="#a50c3a"/>
<circle cx="389.5" cy="344.7" r="1.95" fill="#a50c3a"/>
<circle cx="389.5" cy="348.4" r="1.95" fill="#a50c3a"/>
<circle cx="389.5" cy="352.1" r="1.95" fill="#a50c3a"/>
<circle cx="389.5" cy="366.3" r="1.95" fill="#a50c3a"/>
<circle cx="389.5" cy="374.1" r="1.95" fill="#a50c3a"/>
<circle cx="393" cy="324.5" r="1.95" fill="#a50c3a"/>
<circle cx="393" cy="326.7" r="1.95" fill="#a50c3a"/>
<circle cx="393" cy="329" r="1.95" fill="#a50c3a"/>
<circle cx="393" cy="331.2" r="1.95" fill="#a50c3a"/>
<circle cx="393" cy="333.5" r="1.95" fill="#a50c3a"/>
<circle cx="393" cy="335.7" r="1.95" fill="#a50c3a"/>
<circle cx="393" cy="337.9" r="1.95" fill="#a50c3a"/>
<circle cx="393" cy="340.2" r="1.95" fill="#a50c3a"/>
<circle cx="393" cy="342.4" r="1.95" fill="#a50c3a"/>
<circle cx="393" cy="343.9" r="1.95" fill="#a50c3a"/>
<circle cx="393" cy="354.4" r="1.95" fill="#a50c3a"/>
<circle cx="393" cy="384.3" r="1.95" fill="#a50c3a"/>
<circle cx="394.5" cy="356.6" r="1.95" fill="#a50c3a"/>
<circle cx="396" cy="364.1" r="1.95" fill="#a50c3a"/>
<circle cx="396" cy="366.3" r="1.95" fill="#a50c3a"/>
<circle cx="396" cy="368.6" r="1.95" fill="#a50c3a"/>
<circle cx="396" cy="372.3" r="1.95" fill="#a50c3a"/>
<circle cx="399.4" cy="332.7" r="1.95" fill="#a50c3a"/>
<circle cx="399.4" cy="346.9" r="1.95" fill="#a50c3a"/>
<circle cx="399.4" cy="361.1" r="1.95" fill="#a50c3a"/>
<circle cx="405.4" cy="360.4" r="1.95" fill="#a50c3a"/>
<circle cx="407.2" cy="322.2" r="1.95" fill="#a50c3a"/>
<circle cx="407.2" cy="324.5" r="1.95" fill="#a50c3a"/>
<circle cx="407.2" cy="326.7" r="1.95" fill="#a50c3a"/>
<circle cx="407.2" cy="329" r="1.95" fill="#a50c3a"/>
<circle cx="407.2" cy="331.2" r="1.95" fill="#a50c3a"/>
<circle cx="407.2" cy="333.5" r="1.95" fill="#a50c3a"/>
<circle cx="407.2" cy="335.7" r="1.95" fill="#a50c3a"/>
<circle cx="407.2" cy="337.9" r="1.95" fill="#a50c3a"/>
<circle cx="407.2" cy="340.2" r="1.95" fill="#a50c3a"/>
<circle cx="407.2" cy="348.4" r="1.95" fill="#a50c3a"/>
<circle cx="407.2" cy="360.4" r="1.95" fill="#a50c3a"/>
<circle cx="407.2" cy="377.5" r="1.95" fill="#a50c3a"/>
<circle cx="407.2" cy="388" r="1.95" fill="#a50c3a"/>
<circle cx="407.2" cy="390.3" r="1.95" fill="#a50c3a"/>
<circle cx="411.2" cy="323.7" r="1.95" fill="#a50c3a"/>
<circle cx="411.2" cy="326.7" r="1.95" fill="#a50c3a"/>
<circle cx="411.2" cy="332" r="1.95" fill="#a50c3a"/>
<circle cx="411.2" cy="334.9" r="1.95" fill="#a50c3a"/>
<circle cx="411.2" cy="337.9" r="1.95" fill="#a50c3a"/>
<circle cx="411.2" cy="346.2" r="1.95" fill="#a50c3a"/>
<circle cx="411.2" cy="367.5" r="1.95" fill="#a50c3a"/>
<circle cx="412.7" cy="373.5" r="1.95" fill="#a50c3a"/>
<circle cx="420.6" cy="329.7" r="1.95" fill="#a50c3a"/>
<circle cx="422.1" cy="322.2" r="1.95" fill="#a50c3a"/>
<circle cx="424.7" cy="325.2" r="1.95" fill="#a50c3a"/>
<circle cx="424.7" cy="331.2" r="1.95" fill="#a50c3a"/>
<circle cx="424.7" cy="333.5" r="1.95" fill="#a50c3a"/>
<circle cx="424.7" cy="335.7" r="1.95" fill="#a50c3a"/>
<circle cx="424.7" cy="337.9" r="1.95" fill="#a50c3a"/>
<circle cx="424.7" cy="340.2" r="1.95" fill="#a50c3a"/>
<circle cx="424.7" cy="342.4" r="1.95" fill="#a50c3a"/>
<circle cx="424.7" cy="344.7" r="1.95" fill="#a50c3a"/>
<circle cx="424.7" cy="346.9" r="1.95" fill="#a50c3a"/>
<circle cx="424.7" cy="354.7" r="1.95" fill="#a50c3a"/>
<circle cx="424.7" cy="359.2" r="1.95" fill="#a50c3a"/>
<circle cx="424.7" cy="381.6" r="1.95" fill="#a50c3a"/>
<circle cx="426.6" cy="334.2" r="1.95" fill="#a50c3a"/>
<circle cx="426.6" cy="340.9" r="1.95" fill="#a50c3a"/>
<circle cx="426.6" cy="343.2" r="1.95" fill="#a50c3a"/>
<circle cx="428.1" cy="377.5" r="1.95" fill="#a50c3a"/>
<circle cx="426.2" cy="391.4" r="1.95" fill="#a50c3a"/>
<circle cx="432.9" cy="334.2" r="1.95" fill="#a50c3a"/>
<circle cx="437.4" cy="326.7" r="1.95" fill="#a50c3a"/>
<circle cx="437.4" cy="330.8" r="1.95" fill="#a50c3a"/>
<circle cx="440.1" cy="332.7" r="1.95" fill="#a50c3a"/>
<circle cx="440.1" cy="360.1" r="1.95" fill="#a50c3a"/>
<circle cx="440.1" cy="374.6" r="1.95" fill="#a50c3a"/>
<circle cx="443.4" cy="331.2" r="1.95" fill="#a50c3a"/>
<circle cx="450.1" cy="320.7" r="1.95" fill="#a50c3a"/>
<circle cx="450.1" cy="326.7" r="1.95" fill="#a50c3a"/>
<circle cx="450.1" cy="333.2" r="1.95" fill="#a50c3a"/>
<circle cx="450.1" cy="344.7" r="1.95" fill="#a50c3a"/>
<circle cx="450.1" cy="381.6" r="1.95" fill="#a50c3a"/>
<circle cx="452.3" cy="337.9" r="1.95" fill="#a50c3a"/>
<circle cx="453.1" cy="362.2" r="1.95" fill="#a50c3a"/>
<circle cx="469.1" cy="322.2" r="1.95" fill="#a50c3a"/>
<circle cx="469.1" cy="330.5" r="1.95" fill="#a50c3a"/>
<circle cx="469.1" cy="333.2" r="1.95" fill="#a50c3a"/>
<circle cx="471.8" cy="323.7" r="1.95" fill="#a50c3a"/>
<circle cx="471.8" cy="326" r="1.95" fill="#a50c3a"/>
<circle cx="364.6" cy="393" r="1.95" fill="#a50c3a"/>
<circle cx="364.6" cy="397.5" r="1.95" fill="#a50c3a"/>
<circle cx="364.6" cy="402" r="1.95" fill="#a50c3a"/>
<circle cx="381.8" cy="399" r="1.95" fill="#a50c3a"/>
<circle cx="393.7" cy="399.7" r="1.95" fill="#a50c3a"/>
<circle cx="356.1" cy="422.6" r="1.95" fill="#a50c3a"/>
<circle cx="407.5" cy="396.7" r="1.95" fill="#a50c3a"/>
<circle cx="424.7" cy="402.3" r="1.95" fill="#a50c3a"/>
<line x1="321.2" y1="371.6" x2="487.5" y2="304.1" stroke="#960c38" stroke-width="1.4"/>
<path d="M312,249V466H497" fill="none" stroke="#2a2a2a" stroke-width="1"/>
<line x1="306.5" y1="258" x2="312" y2="258" stroke="#2a2a2a" stroke-width="1"/>
<text x="304" y="263.8" text-anchor="end" class="t">12</text>
<line x1="306.5" y1="307.66" x2="312" y2="307.66" stroke="#2a2a2a" stroke-width="1"/>
<text x="304" y="313.46" text-anchor="end" class="t">10</text>
<line x1="306.5" y1="357.32" x2="312" y2="357.32" stroke="#2a2a2a" stroke-width="1"/>
<text x="304" y="363.12" text-anchor="end" class="t">8</text>
<line x1="306.5" y1="406.98" x2="312" y2="406.98" stroke="#2a2a2a" stroke-width="1"/>
<text x="304" y="412.78" text-anchor="end" class="t">6</text>
<line x1="306.5" y1="456.64" x2="312" y2="456.64" stroke="#2a2a2a" stroke-width="1"/>
<text x="304" y="462.44" text-anchor="end" class="t">4</text>
<line x1="321" y1="466" x2="321" y2="472" stroke="#2a2a2a" stroke-width="1"/>
<text x="321" y="486" text-anchor="middle" class="t">-3</text>
<line x1="348.87" y1="466" x2="348.87" y2="472" stroke="#2a2a2a" stroke-width="1"/>
<text x="348.87" y="486" text-anchor="middle" class="t">-2</text>
<line x1="376.74" y1="466" x2="376.74" y2="472" stroke="#2a2a2a" stroke-width="1"/>
<text x="376.74" y="486" text-anchor="middle" class="t">-1</text>
<line x1="404.61" y1="466" x2="404.61" y2="472" stroke="#2a2a2a" stroke-width="1"/>
<text x="404.61" y="486" text-anchor="middle" class="t">0</text>
<line x1="432.48" y1="466" x2="432.48" y2="472" stroke="#2a2a2a" stroke-width="1"/>
<text x="432.48" y="486" text-anchor="middle" class="t">1</text>
<line x1="460.35" y1="466" x2="460.35" y2="472" stroke="#2a2a2a" stroke-width="1"/>
<text x="460.35" y="486" text-anchor="middle" class="t">2</text>
<line x1="488.22" y1="466" x2="488.22" y2="472" stroke="#2a2a2a" stroke-width="1"/>
<text x="488.22" y="486" text-anchor="middle" class="t">3</text>
<text transform="translate(267.4,357.5) rotate(-90)" text-anchor="middle" class="ti">Clock</text>
<line x1="564.5" y1="258" x2="748.6" y2="258" stroke="#e9eced" stroke-width="1"/>
<line x1="564.5" y1="294.95" x2="748.6" y2="294.95" stroke="#e9eced" stroke-width="1"/>
<line x1="564.5" y1="331.9" x2="748.6" y2="331.9" stroke="#e9eced" stroke-width="1"/>
<line x1="564.5" y1="368.85" x2="748.6" y2="368.85" stroke="#e9eced" stroke-width="1"/>
<line x1="564.5" y1="405.8" x2="748.6" y2="405.8" stroke="#e9eced" stroke-width="1"/>
<line x1="564.5" y1="442.75" x2="748.6" y2="442.75" stroke="#e9eced" stroke-width="1"/>
<polygon points="580.2,359.93 584.08,360.08 587.97,360.22 591.85,360.36 595.73,360.5 599.61,360.63 603.5,360.76 607.38,360.88 611.26,360.99 615.14,361.09 619.03,361.17 622.91,361.24 626.79,361.3 630.67,361.33 634.56,361.33 638.44,361.29 642.32,361.21 646.2,361.07 650.09,360.86 653.97,360.57 657.85,360.2 661.73,359.74 665.62,359.21 669.5,358.6 673.38,357.93 677.26,357.2 681.14,356.43 685.03,355.63 688.91,354.8 692.79,353.94 696.67,353.07 700.56,352.17 704.44,351.27 708.32,350.36 712.21,349.43 716.09,348.5 719.97,347.56 723.85,346.62 727.74,345.67 731.62,344.72 735.5,343.77 735.5,367.77 731.62,367.66 727.74,367.55 723.85,367.45 719.97,367.35 716.09,367.25 712.21,367.17 708.32,367.08 704.44,367.01 700.56,366.95 696.67,366.9 692.79,366.87 688.91,366.86 685.03,366.87 681.14,366.91 677.26,366.98 673.38,367.1 669.5,367.27 665.62,367.51 661.73,367.82 657.85,368.2 653.97,368.67 650.09,369.23 646.2,369.86 642.32,370.57 638.44,371.33 634.56,372.13 630.67,372.98 626.79,373.85 622.91,374.74 619.03,375.66 615.14,376.59 611.26,377.53 607.38,378.48 603.5,379.45 599.61,380.41 595.73,381.39 591.85,382.37 587.97,383.35 584.08,384.34 580.2,385.33" fill="#f7d4de"/>
<circle cx="644.4" cy="269.9" r="1.95" fill="#a50c3a"/>
<circle cx="633.5" cy="315" r="1.95" fill="#a50c3a"/>
<circle cx="641" cy="316.2" r="1.95" fill="#a50c3a"/>
<circle cx="627.2" cy="318.8" r="1.95" fill="#a50c3a"/>
<circle cx="627.2" cy="320.7" r="1.95" fill="#a50c3a"/>
<circle cx="607.2" cy="321.3" r="1.95" fill="#a50c3a"/>
<circle cx="615.6" cy="322.4" r="1.95" fill="#a50c3a"/>
<circle cx="647" cy="322.2" r="1.95" fill="#a50c3a"/>
<circle cx="650.7" cy="320.1" r="1.95" fill="#a50c3a"/>
<circle cx="662.2" cy="283.6" r="1.95" fill="#a50c3a"/>
<circle cx="662.2" cy="307.5" r="1.95" fill="#a50c3a"/>
<circle cx="662.2" cy="311.3" r="1.95" fill="#a50c3a"/>
<circle cx="662.2" cy="320.1" r="1.95" fill="#a50c3a"/>
<circle cx="658.8" cy="322" r="1.95" fill="#a50c3a"/>
<circle cx="671.9" cy="321.1" r="1.95" fill="#a50c3a"/>
<circle cx="675.7" cy="308.7" r="1.95" fill="#a50c3a"/>
<circle cx="675.7" cy="314" r="1.95" fill="#a50c3a"/>
<circle cx="684.4" cy="320" r="1.95" fill="#a50c3a"/>
<circle cx="688.8" cy="318" r="1.95" fill="#a50c3a"/>
<circle cx="691.1" cy="321.5" r="1.95" fill="#a50c3a"/>
<circle cx="701.4" cy="302.3" r="1.95" fill="#a50c3a"/>
<circle cx="701.4" cy="318" r="1.95" fill="#a50c3a"/>
<circle cx="580.2" cy="384.3" r="1.95" fill="#a50c3a"/>
<circle cx="596.9" cy="374.6" r="1.95" fill="#a50c3a"/>
<circle cx="599.1" cy="376.8" r="1.95" fill="#a50c3a"/>
<circle cx="597.6" cy="387.3" r="1.95" fill="#a50c3a"/>
<circle cx="600.2" cy="389.1" r="1.95" fill="#a50c3a"/>
<circle cx="600.2" cy="336.7" r="1.95" fill="#a50c3a"/>
<circle cx="600.2" cy="352.1" r="1.95" fill="#a50c3a"/>
<circle cx="607.4" cy="377.5" r="1.95" fill="#a50c3a"/>
<circle cx="615.6" cy="345.4" r="1.95" fill="#a50c3a"/>
<circle cx="615.6" cy="360.1" r="1.95" fill="#a50c3a"/>
<circle cx="615.6" cy="376.8" r="1.95" fill="#a50c3a"/>
<circle cx="615.6" cy="382" r="1.95" fill="#a50c3a"/>
<circle cx="615.6" cy="385" r="1.95" fill="#a50c3a"/>
<circle cx="615.6" cy="388" r="1.95" fill="#a50c3a"/>
<circle cx="617.1" cy="354.1" r="1.95" fill="#a50c3a"/>
<circle cx="617.1" cy="377.5" r="1.95" fill="#a50c3a"/>
<circle cx="617.8" cy="372.3" r="1.95" fill="#a50c3a"/>
<circle cx="624.5" cy="386.5" r="1.95" fill="#a50c3a"/>
<circle cx="627.2" cy="329.7" r="1.95" fill="#a50c3a"/>
<circle cx="627.2" cy="332" r="1.95" fill="#a50c3a"/>
<circle cx="627.2" cy="340.9" r="1.95" fill="#a50c3a"/>
<circle cx="627.2" cy="343.2" r="1.95" fill="#a50c3a"/>
<circle cx="627.2" cy="354.4" r="1.95" fill="#a50c3a"/>
<circle cx="627.2" cy="356.6" r="1.95" fill="#a50c3a"/>
<circle cx="627.2" cy="358.9" r="1.95" fill="#a50c3a"/>
<circle cx="627.2" cy="363.6" r="1.95" fill="#a50c3a"/>
<circle cx="627.2" cy="379.8" r="1.95" fill="#a50c3a"/>
<circle cx="627.2" cy="382" r="1.95" fill="#a50c3a"/>
<circle cx="627.2" cy="384.6" r="1.95" fill="#a50c3a"/>
<circle cx="632.8" cy="330.8" r="1.95" fill="#a50c3a"/>
<circle cx="632.8" cy="340.2" r="1.95" fill="#a50c3a"/>
<circle cx="632.8" cy="364.1" r="1.95" fill="#a50c3a"/>
<circle cx="634" cy="329.7" r="1.95" fill="#a50c3a"/>
<circle cx="634" cy="359.6" r="1.95" fill="#a50c3a"/>
<circle cx="634" cy="366.3" r="1.95" fill="#a50c3a"/>
<circle cx="633.5" cy="343.9" r="1.95" fill="#a50c3a"/>
<circle cx="633.5" cy="379" r="1.95" fill="#a50c3a"/>
<circle cx="641" cy="330.5" r="1.95" fill="#a50c3a"/>
<circle cx="641" cy="332" r="1.95" fill="#a50c3a"/>
<circle cx="641" cy="366.3" r="1.95" fill="#a50c3a"/>
<circle cx="641" cy="375.3" r="1.95" fill="#a50c3a"/>
<circle cx="641" cy="388.8" r="1.95" fill="#a50c3a"/>
<circle cx="644.4" cy="333.5" r="1.95" fill="#a50c3a"/>
<circle cx="644.4" cy="335.7" r="1.95" fill="#a50c3a"/>
<circle cx="644.4" cy="337.9" r="1.95" fill="#a50c3a"/>
<circle cx="644.4" cy="340.2" r="1.95" fill="#a50c3a"/>
<circle cx="644.4" cy="342.4" r="1.95" fill="#a50c3a"/>
<circle cx="644.4" cy="347.7" r="1.95" fill="#a50c3a"/>
<circle cx="644.4" cy="352.1" r="1.95" fill="#a50c3a"/>
<circle cx="644.4" cy="355.1" r="1.95" fill="#a50c3a"/>
<circle cx="644.4" cy="360.4" r="1.95" fill="#a50c3a"/>
<circle cx="644.4" cy="362.6" r="1.95" fill="#a50c3a"/>
<circle cx="644.4" cy="364.8" r="1.95" fill="#a50c3a"/>
<circle cx="644.4" cy="371.6" r="1.95" fill="#a50c3a"/>
<circle cx="644.4" cy="377.5" r="1.95" fill="#a50c3a"/>
<circle cx="644.4" cy="384.3" r="1.95" fill="#a50c3a"/>
<circle cx="644.4" cy="388" r="1.95" fill="#a50c3a"/>
<circle cx="647" cy="334.2" r="1.95" fill="#a50c3a"/>
<circle cx="647" cy="343.2" r="1.95" fill="#a50c3a"/>
<circle cx="646.2" cy="385.8" r="1.95" fill="#a50c3a"/>
<circle cx="650.7" cy="323.7" r="1.95" fill="#a50c3a"/>
<circle cx="650.4" cy="369.3" r="1.95" fill="#a50c3a"/>
<circle cx="650.4" cy="371.6" r="1.95" fill="#a50c3a"/>
<circle cx="656.7" cy="343.9" r="1.95" fill="#a50c3a"/>
<circle cx="658.8" cy="331.2" r="1.95" fill="#a50c3a"/>
<circle cx="658.8" cy="334.2" r="1.95" fill="#a50c3a"/>
<circle cx="658.8" cy="336.4" r="1.95" fill="#a50c3a"/>
<circle cx="658.8" cy="338.7" r="1.95" fill="#a50c3a"/>
<circle cx="658.8" cy="344.7" r="1.95" fill="#a50c3a"/>
<circle cx="658.8" cy="346.2" r="1.95" fill="#a50c3a"/>
<circle cx="658.8" cy="356.6" r="1.95" fill="#a50c3a"/>
<circle cx="658.8" cy="359.6" r="1.95" fill="#a50c3a"/>
<circle cx="658.8" cy="361.9" r="1.95" fill="#a50c3a"/>
<circle cx="658.8" cy="364.1" r="1.95" fill="#a50c3a"/>
<circle cx="658.8" cy="370.1" r="1.95" fill="#a50c3a"/>
<circle cx="658.8" cy="376.1" r="1.95" fill="#a50c3a"/>
<circle cx="658.8" cy="379" r="1.95" fill="#a50c3a"/>
<circle cx="658.8" cy="381.3" r="1.95" fill="#a50c3a"/>
<circle cx="658.8" cy="383.5" r="1.95" fill="#a50c3a"/>
<circle cx="658.8" cy="385.8" r="1.95" fill="#a50c3a"/>
<circle cx="658.8" cy="388" r="1.95" fill="#a50c3a"/>
<circle cx="658.8" cy="391" r="1.95" fill="#a50c3a"/>
<circle cx="662.2" cy="324.2" r="1.95" fill="#a50c3a"/>
<circle cx="662.2" cy="340.9" r="1.95" fill="#a50c3a"/>
<circle cx="662.2" cy="360.4" r="1.95" fill="#a50c3a"/>
<circle cx="662.2" cy="376.8" r="1.95" fill="#a50c3a"/>
<circle cx="662.2" cy="385" r="1.95" fill="#a50c3a"/>
<circle cx="662.2" cy="387.3" r="1.95" fill="#a50c3a"/>
<circle cx="663.7" cy="359.6" r="1.95" fill="#a50c3a"/>
<circle cx="671.9" cy="342.4" r="1.95" fill="#a50c3a"/>
<circle cx="671.9" cy="345.4" r="1.95" fill="#a50c3a"/>
<circle cx="671.9" cy="347.7" r="1.95" fill="#a50c3a"/>
<circle cx="671.9" cy="367.8" r="1.95" fill="#a50c3a"/>
<circle cx="673.4" cy="373.1" r="1.95" fill="#a50c3a"/>
<circle cx="675.7" cy="325.2" r="1.95" fill="#a50c3a"/>
<circle cx="675.7" cy="327.5" r="1.95" fill="#a50c3a"/>
<circle cx="675.7" cy="336.4" r="1.95" fill="#a50c3a"/>
<circle cx="675.7" cy="343.9" r="1.95" fill="#a50c3a"/>
<circle cx="675.7" cy="349.9" r="1.95" fill="#a50c3a"/>
<circle cx="675.7" cy="355.9" r="1.95" fill="#a50c3a"/>
<circle cx="675.7" cy="358.1" r="1.95" fill="#a50c3a"/>
<circle cx="675.7" cy="361.1" r="1.95" fill="#a50c3a"/>
<circle cx="675.7" cy="363.3" r="1.95" fill="#a50c3a"/>
<circle cx="675.7" cy="366.3" r="1.95" fill="#a50c3a"/>
<circle cx="675.7" cy="369.3" r="1.95" fill="#a50c3a"/>
<circle cx="675.7" cy="372.3" r="1.95" fill="#a50c3a"/>
<circle cx="675.7" cy="381.3" r="1.95" fill="#a50c3a"/>
<circle cx="675.7" cy="391.6" r="1.95" fill="#a50c3a"/>
<circle cx="677.9" cy="339.4" r="1.95" fill="#a50c3a"/>
<circle cx="677.9" cy="368.6" r="1.95" fill="#a50c3a"/>
<circle cx="677.9" cy="384.3" r="1.95" fill="#a50c3a"/>
<circle cx="679.4" cy="385" r="1.95" fill="#a50c3a"/>
<circle cx="684.4" cy="351.4" r="1.95" fill="#a50c3a"/>
<circle cx="689.1" cy="346.9" r="1.95" fill="#a50c3a"/>
<circle cx="691.1" cy="331.2" r="1.95" fill="#a50c3a"/>
<circle cx="691.1" cy="349.9" r="1.95" fill="#a50c3a"/>
<circle cx="691.1" cy="355.1" r="1.95" fill="#a50c3a"/>
<circle cx="691.1" cy="365.6" r="1.95" fill="#a50c3a"/>
<circle cx="691.1" cy="374.6" r="1.95" fill="#a50c3a"/>
<circle cx="691.1" cy="376.8" r="1.95" fill="#a50c3a"/>
<circle cx="691.1" cy="388.8" r="1.95" fill="#a50c3a"/>
<circle cx="691.1" cy="391" r="1.95" fill="#a50c3a"/>
<circle cx="695.1" cy="335.7" r="1.95" fill="#a50c3a"/>
<circle cx="701.4" cy="327.5" r="1.95" fill="#a50c3a"/>
<circle cx="701.4" cy="329" r="1.95" fill="#a50c3a"/>
<circle cx="701.4" cy="331.2" r="1.95" fill="#a50c3a"/>
<circle cx="701.4" cy="335.7" r="1.95" fill="#a50c3a"/>
<circle cx="701.4" cy="348.1" r="1.95" fill="#a50c3a"/>
<circle cx="701.4" cy="349.9" r="1.95" fill="#a50c3a"/>
<circle cx="701.4" cy="352.1" r="1.95" fill="#a50c3a"/>
<circle cx="701.4" cy="355.1" r="1.95" fill="#a50c3a"/>
<circle cx="701.4" cy="364.8" r="1.95" fill="#a50c3a"/>
<circle cx="703.3" cy="370.8" r="1.95" fill="#a50c3a"/>
<circle cx="703.3" cy="379.3" r="1.95" fill="#a50c3a"/>
<circle cx="708.3" cy="328.2" r="1.95" fill="#a50c3a"/>
<circle cx="708.3" cy="336.1" r="1.95" fill="#a50c3a"/>
<circle cx="708.3" cy="353.6" r="1.95" fill="#a50c3a"/>
<circle cx="708.3" cy="360.4" r="1.95" fill="#a50c3a"/>
<circle cx="708.3" cy="379.3" r="1.95" fill="#a50c3a"/>
<circle cx="716.8" cy="359.6" r="1.95" fill="#a50c3a"/>
<circle cx="720.5" cy="331.2" r="1.95" fill="#a50c3a"/>
<circle cx="720.5" cy="350.6" r="1.95" fill="#a50c3a"/>
<circle cx="720.5" cy="352.1" r="1.95" fill="#a50c3a"/>
<circle cx="720.5" cy="359.6" r="1.95" fill="#a50c3a"/>
<circle cx="720.5" cy="367.1" r="1.95" fill="#a50c3a"/>
<circle cx="720.5" cy="367.8" r="1.95" fill="#a50c3a"/>
<circle cx="720.5" cy="384" r="1.95" fill="#a50c3a"/>
<circle cx="720.5" cy="388.5" r="1.95" fill="#a50c3a"/>
<circle cx="720.5" cy="390.3" r="1.95" fill="#a50c3a"/>
<circle cx="723.2" cy="355.6" r="1.95" fill="#a50c3a"/>
<circle cx="735.8" cy="369.6" r="1.95" fill="#a50c3a"/>
<circle cx="635" cy="393.3" r="1.95" fill="#a50c3a"/>
<circle cx="635" cy="398.2" r="1.95" fill="#a50c3a"/>
<circle cx="635" cy="439" r="1.95" fill="#a50c3a"/>
<circle cx="644.4" cy="393.3" r="1.95" fill="#a50c3a"/>
<circle cx="632.8" cy="399.7" r="1.95" fill="#a50c3a"/>
<circle cx="632.8" cy="421.4" r="1.95" fill="#a50c3a"/>
<circle cx="627.5" cy="402.3" r="1.95" fill="#a50c3a"/>
<circle cx="627.5" cy="426.2" r="1.95" fill="#a50c3a"/>
<circle cx="600.2" cy="405.7" r="1.95" fill="#a50c3a"/>
<circle cx="617.2" cy="406.7" r="1.95" fill="#a50c3a"/>
<circle cx="633.8" cy="406.4" r="1.95" fill="#a50c3a"/>
<circle cx="607.4" cy="410.5" r="1.95" fill="#a50c3a"/>
<circle cx="607.4" cy="456.8" r="1.95" fill="#a50c3a"/>
<circle cx="615.6" cy="415.1" r="1.95" fill="#a50c3a"/>
<circle cx="595.8" cy="419.1" r="1.95" fill="#a50c3a"/>
<circle cx="650.7" cy="418" r="1.95" fill="#a50c3a"/>
<circle cx="656.7" cy="391.5" r="1.95" fill="#a50c3a"/>
<circle cx="658.8" cy="400.2" r="1.95" fill="#a50c3a"/>
<circle cx="658.8" cy="406.7" r="1.95" fill="#a50c3a"/>
<circle cx="658.8" cy="413.9" r="1.95" fill="#a50c3a"/>
<circle cx="658.8" cy="415.1" r="1.95" fill="#a50c3a"/>
<circle cx="662.2" cy="396.3" r="1.95" fill="#a50c3a"/>
<circle cx="673.4" cy="399.7" r="1.95" fill="#a50c3a"/>
<circle cx="675.7" cy="394.5" r="1.95" fill="#a50c3a"/>
<circle cx="675.7" cy="396.7" r="1.95" fill="#a50c3a"/>
<circle cx="675.7" cy="399" r="1.95" fill="#a50c3a"/>
<circle cx="675.7" cy="427.4" r="1.95" fill="#a50c3a"/>
<circle cx="677.9" cy="403.2" r="1.95" fill="#a50c3a"/>
<circle cx="677.9" cy="430.1" r="1.95" fill="#a50c3a"/>
<circle cx="684.4" cy="397.2" r="1.95" fill="#a50c3a"/>
<circle cx="689.1" cy="398.2" r="1.95" fill="#a50c3a"/>
<circle cx="689.1" cy="410.2" r="1.95" fill="#a50c3a"/>
<circle cx="691.1" cy="405.2" r="1.95" fill="#a50c3a"/>
<circle cx="695.1" cy="404.2" r="1.95" fill="#a50c3a"/>
<circle cx="704.5" cy="425.9" r="1.95" fill="#a50c3a"/>
<circle cx="720.5" cy="400.9" r="1.95" fill="#a50c3a"/>
<circle cx="723.5" cy="393.3" r="1.95" fill="#a50c3a"/>
<circle cx="735.8" cy="409.9" r="1.95" fill="#a50c3a"/>
<line x1="572.2" y1="373.5" x2="738.9" y2="355.4" stroke="#960c38" stroke-width="1.4"/>
<path d="M563.5,249V466H748.6" fill="none" stroke="#2a2a2a" stroke-width="1"/>
<line x1="558" y1="258" x2="563.5" y2="258" stroke="#2a2a2a" stroke-width="1"/>
<text x="555.5" y="263.8" text-anchor="end" class="t">58</text>
<line x1="558" y1="294.95" x2="563.5" y2="294.95" stroke="#2a2a2a" stroke-width="1"/>
<text x="555.5" y="300.75" text-anchor="end" class="t">56</text>
<line x1="558" y1="331.9" x2="563.5" y2="331.9" stroke="#2a2a2a" stroke-width="1"/>
<text x="555.5" y="337.7" text-anchor="end" class="t">54</text>
<line x1="558" y1="368.85" x2="563.5" y2="368.85" stroke="#2a2a2a" stroke-width="1"/>
<text x="555.5" y="374.65" text-anchor="end" class="t">52</text>
<line x1="558" y1="405.8" x2="563.5" y2="405.8" stroke="#2a2a2a" stroke-width="1"/>
<text x="555.5" y="411.6" text-anchor="end" class="t">50</text>
<line x1="558" y1="442.75" x2="563.5" y2="442.75" stroke="#2a2a2a" stroke-width="1"/>
<text x="555.5" y="448.55" text-anchor="end" class="t">48</text>
<line x1="572.2" y1="466" x2="572.2" y2="472" stroke="#2a2a2a" stroke-width="1"/>
<text x="572.2" y="486" text-anchor="middle" class="t">-3</text>
<line x1="600.07" y1="466" x2="600.07" y2="472" stroke="#2a2a2a" stroke-width="1"/>
<text x="600.07" y="486" text-anchor="middle" class="t">-2</text>
<line x1="627.94" y1="466" x2="627.94" y2="472" stroke="#2a2a2a" stroke-width="1"/>
<text x="627.94" y="486" text-anchor="middle" class="t">-1</text>
<line x1="655.81" y1="466" x2="655.81" y2="472" stroke="#2a2a2a" stroke-width="1"/>
<text x="655.81" y="486" text-anchor="middle" class="t">0</text>
<line x1="683.68" y1="466" x2="683.68" y2="472" stroke="#2a2a2a" stroke-width="1"/>
<text x="683.68" y="486" text-anchor="middle" class="t">1</text>
<line x1="711.55" y1="466" x2="711.55" y2="472" stroke="#2a2a2a" stroke-width="1"/>
<text x="711.55" y="486" text-anchor="middle" class="t">2</text>
<line x1="739.42" y1="466" x2="739.42" y2="472" stroke="#2a2a2a" stroke-width="1"/>
<text x="739.42" y="486" text-anchor="middle" class="t">3</text>
<text transform="translate(518.9,357.5) rotate(-90)" text-anchor="middle" class="ti">Cancel</text>
</svg>
</body></html>
